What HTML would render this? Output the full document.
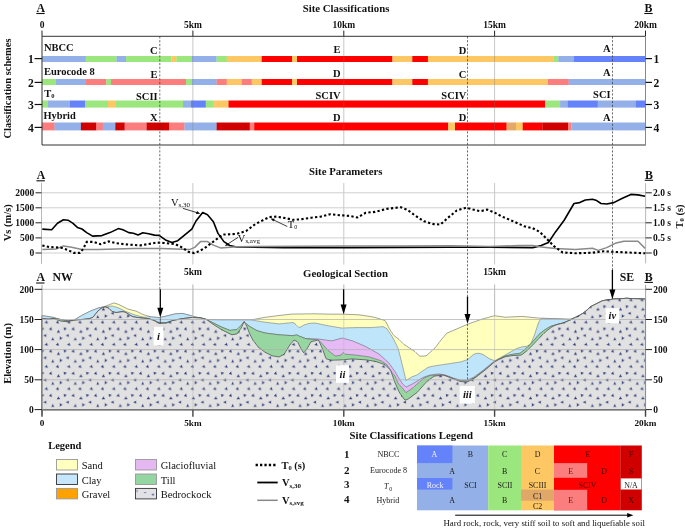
<!DOCTYPE html><html><head><meta charset="utf-8"><title>Site classification profile</title><style>
html,body{margin:0;padding:0;background:#fff;overflow:hidden;}svg{display:block;}
text{font-family:"Liberation Serif","Times New Roman",serif;fill:#111;}
.b{font-weight:bold;}.t{font-size:10.8px;font-weight:bold;}.k{font-size:9.5px;font-weight:bold;}
.lab{font-size:10.5px;font-weight:bold;}.ax{font-size:9.5px;font-weight:bold;}
</style></head><body>
<svg width="685" height="530" viewBox="0 0 685 530">
<defs><pattern id="rock" patternUnits="userSpaceOnUse" x="44.3" y="360.4" width="22.48" height="22.2"><rect width="22.48" height="22.2" fill="#e1e1e1"/><g fill="#1f2c72" stroke="#1f2c72" stroke-width="0.6" fill-opacity="0.35"><path transform="translate(8.50,1.00) rotate(180)" d="M-1.3,-1.2 L0,0.3 L1.3,-1.2 M0,0.3 L0,1.6 M-0.5,-0.3 L0.5,-0.3"/><circle cx="8.50" cy="1.00" r="0.5"/><path transform="translate(8.50,23.20) rotate(180)" d="M-1.3,-1.2 L0,0.3 L1.3,-1.2 M0,0.3 L0,1.6 M-0.5,-0.3 L0.5,-0.3"/><circle cx="8.50" cy="23.20" r="0.5"/><path transform="translate(16.30,0.20) rotate(30)" d="M-1.3,-1.2 L0,0.3 L1.3,-1.2 M0,0.3 L0,1.6 M-0.5,-0.3 L0.5,-0.3"/><circle cx="16.30" cy="0.20" r="0.5"/><path transform="translate(16.30,22.40) rotate(30)" d="M-1.3,-1.2 L0,0.3 L1.3,-1.2 M0,0.3 L0,1.6 M-0.5,-0.3 L0.5,-0.3"/><circle cx="16.30" cy="22.40" r="0.5"/><path transform="translate(2.30,6.40) rotate(-45)" d="M-1.3,-1.2 L0,0.3 L1.3,-1.2 M0,0.3 L0,1.6 M-0.5,-0.3 L0.5,-0.3"/><circle cx="2.30" cy="6.40" r="0.5"/><path transform="translate(13.40,6.40) rotate(-45)" d="M-1.3,-1.2 L0,0.3 L1.3,-1.2 M0,0.3 L0,1.6 M-0.5,-0.3 L0.5,-0.3"/><circle cx="13.40" cy="6.40" r="0.5"/><path transform="translate(6.50,12.80) rotate(200)" d="M-1.3,-1.2 L0,0.3 L1.3,-1.2 M0,0.3 L0,1.6 M-0.5,-0.3 L0.5,-0.3"/><circle cx="6.50" cy="12.80" r="0.5"/><path transform="translate(20.40,12.60) rotate(135)" d="M-1.3,-1.2 L0,0.3 L1.3,-1.2 M0,0.3 L0,1.6 M-0.5,-0.3 L0.5,-0.3"/><circle cx="20.40" cy="12.60" r="0.5"/><path transform="translate(14.00,15.80) rotate(60)" d="M-1.3,-1.2 L0,0.3 L1.3,-1.2 M0,0.3 L0,1.6 M-0.5,-0.3 L0.5,-0.3"/><circle cx="14.00" cy="15.80" r="0.5"/><path transform="translate(0.90,19.60) rotate(90)" d="M-1.3,-1.2 L0,0.3 L1.3,-1.2 M0,0.3 L0,1.6 M-0.5,-0.3 L0.5,-0.3"/><circle cx="0.90" cy="19.60" r="0.5"/><path transform="translate(23.38,19.60) rotate(90)" d="M-1.3,-1.2 L0,0.3 L1.3,-1.2 M0,0.3 L0,1.6 M-0.5,-0.3 L0.5,-0.3"/><circle cx="23.38" cy="19.60" r="0.5"/></g></pattern></defs>
<text class="t" x="346" y="11.9" text-anchor="middle">Site Classifications</text>
<text class="b" style="font-size:11.8px" x="36.6" y="11.9">A</text><line x1="36.300000000000004" y1="13.5" x2="44.7" y2="13.5" stroke="#111" stroke-width="1.1"/>
<text class="b" style="font-size:11.8px" x="644.6" y="11.9">B</text><line x1="644.3000000000001" y1="13.5" x2="652.7" y2="13.5" stroke="#111" stroke-width="1.1"/>
<text class="k" x="42.0" y="27.6" text-anchor="middle">0</text>
<line x1="42.0" y1="30.6" x2="42.0" y2="36.3" stroke="#222" stroke-width="1"/>
<text class="k" x="192.9" y="27.6" text-anchor="middle">5km</text>
<line x1="192.9" y1="30.6" x2="192.9" y2="36.3" stroke="#222" stroke-width="1"/>
<text class="k" x="343.8" y="27.6" text-anchor="middle">10km</text>
<line x1="343.8" y1="30.6" x2="343.8" y2="36.3" stroke="#222" stroke-width="1"/>
<text class="k" x="494.6" y="27.6" text-anchor="middle">15km</text>
<line x1="494.6" y1="30.6" x2="494.6" y2="36.3" stroke="#222" stroke-width="1"/>
<text class="k" x="645.5" y="27.6" text-anchor="middle">20km</text>
<line x1="645.5" y1="30.6" x2="645.5" y2="36.3" stroke="#222" stroke-width="1"/>
<line x1="192.9" y1="36.3" x2="192.9" y2="145" stroke="#c8c8c8" stroke-width="1"/>
<line x1="343.8" y1="36.3" x2="343.8" y2="145" stroke="#c8c8c8" stroke-width="1"/>
<line x1="494.6" y1="36.3" x2="494.6" y2="145" stroke="#c8c8c8" stroke-width="1"/>
<rect x="42.0" y="56" width="43.95" height="6" fill="#94b0e8"/>
<rect x="85.8" y="56" width="30.85" height="6" fill="#9be67d"/>
<rect x="116.5" y="56" width="9.75" height="6" fill="#94b0e8"/>
<rect x="126.1" y="56" width="45.45" height="6" fill="#9be67d"/>
<rect x="171.4" y="56" width="5.15" height="6" fill="#fdc764"/>
<rect x="176.4" y="56" width="15.55" height="6" fill="#9be67d"/>
<rect x="191.8" y="56" width="24.95" height="6" fill="#94b0e8"/>
<rect x="216.6" y="56" width="10.35" height="6" fill="#9be67d"/>
<rect x="226.8" y="56" width="35.05" height="6" fill="#fdc764"/>
<rect x="261.7" y="56" width="30.45" height="6" fill="#fe0000"/>
<rect x="292.0" y="56" width="5.15" height="6" fill="#fdc764"/>
<rect x="297.0" y="56" width="95.55" height="6" fill="#fe0000"/>
<rect x="392.4" y="56" width="20.05" height="6" fill="#fdc764"/>
<rect x="412.3" y="56" width="15.75" height="6" fill="#fe0000"/>
<rect x="427.9" y="56" width="125.55" height="6" fill="#fdc764"/>
<rect x="553.3" y="56" width="5.15" height="6" fill="#9be67d"/>
<rect x="558.3" y="56" width="15.45" height="6" fill="#94b0e8"/>
<rect x="573.6" y="56" width="72.05" height="6" fill="#6482fa"/>
<rect x="42.0" y="79" width="14.15" height="6" fill="#9be67d"/>
<rect x="56.0" y="79" width="29.95" height="6" fill="#94b0e8"/>
<rect x="85.8" y="79" width="20.65" height="6" fill="#fb7d7d"/>
<rect x="106.3" y="79" width="4.85" height="6" fill="#9be67d"/>
<rect x="111.0" y="79" width="75.15" height="6" fill="#fb7d7d"/>
<rect x="186.0" y="79" width="5.95" height="6" fill="#9be67d"/>
<rect x="191.8" y="79" width="24.95" height="6" fill="#94b0e8"/>
<rect x="216.6" y="79" width="10.35" height="6" fill="#fb7d7d"/>
<rect x="226.8" y="79" width="15.15" height="6" fill="#fdc764"/>
<rect x="241.8" y="79" width="10.15" height="6" fill="#fb7d7d"/>
<rect x="251.8" y="79" width="10.05" height="6" fill="#fdc764"/>
<rect x="261.7" y="79" width="30.45" height="6" fill="#fe0000"/>
<rect x="292.0" y="79" width="5.15" height="6" fill="#fdc764"/>
<rect x="297.0" y="79" width="95.55" height="6" fill="#fe0000"/>
<rect x="392.4" y="79" width="20.05" height="6" fill="#fdc764"/>
<rect x="412.3" y="79" width="15.75" height="6" fill="#fe0000"/>
<rect x="427.9" y="79" width="120.25" height="6" fill="#fdc764"/>
<rect x="548.0" y="79" width="20.85" height="6" fill="#fb7d7d"/>
<rect x="568.7" y="79" width="76.95" height="6" fill="#94b0e8"/>
<rect x="42.0" y="100.5" width="6.15" height="7.099999999999994" fill="#9be67d"/>
<rect x="48.0" y="100.5" width="22.15" height="7.099999999999994" fill="#94b0e8"/>
<rect x="70.0" y="100.5" width="15.45" height="7.099999999999994" fill="#6482fa"/>
<rect x="85.3" y="100.5" width="22.85" height="7.099999999999994" fill="#9be67d"/>
<rect x="108.0" y="100.5" width="7.45" height="7.099999999999994" fill="#fdc764"/>
<rect x="115.3" y="100.5" width="67.85" height="7.099999999999994" fill="#9be67d"/>
<rect x="183.0" y="100.5" width="8.15" height="7.099999999999994" fill="#94b0e8"/>
<rect x="191.0" y="100.5" width="14.95" height="7.099999999999994" fill="#6482fa"/>
<rect x="205.8" y="100.5" width="8.05" height="7.099999999999994" fill="#9be67d"/>
<rect x="213.7" y="100.5" width="14.95" height="7.099999999999994" fill="#fdc764"/>
<rect x="228.5" y="100.5" width="316.85" height="7.099999999999994" fill="#fe0000"/>
<rect x="545.2" y="100.5" width="15.05" height="7.099999999999994" fill="#9be67d"/>
<rect x="560.1" y="100.5" width="7.75" height="7.099999999999994" fill="#94b0e8"/>
<rect x="567.7" y="100.5" width="30.25" height="7.099999999999994" fill="#6482fa"/>
<rect x="597.8" y="100.5" width="38.25" height="7.099999999999994" fill="#94b0e8"/>
<rect x="635.9" y="100.5" width="9.75" height="7.099999999999994" fill="#6482fa"/>
<rect x="42.0" y="122.5" width="12.75" height="7.900000000000006" fill="#fb7d7d"/>
<rect x="54.6" y="122.5" width="26.45" height="7.900000000000006" fill="#94b0e8"/>
<rect x="80.9" y="122.5" width="15.65" height="7.900000000000006" fill="#d00000"/>
<rect x="96.4" y="122.5" width="6.55" height="7.900000000000006" fill="#fb7d7d"/>
<rect x="102.8" y="122.5" width="12.65" height="7.900000000000006" fill="#94b0e8"/>
<rect x="115.3" y="122.5" width="9.55" height="7.900000000000006" fill="#d00000"/>
<rect x="124.7" y="122.5" width="22.05" height="7.900000000000006" fill="#fb7d7d"/>
<rect x="146.6" y="122.5" width="22.55" height="7.900000000000006" fill="#d00000"/>
<rect x="169.0" y="122.5" width="15.65" height="7.900000000000006" fill="#fb7d7d"/>
<rect x="184.5" y="122.5" width="32.25" height="7.900000000000006" fill="#94b0e8"/>
<rect x="216.6" y="122.5" width="33.35" height="7.900000000000006" fill="#d00000"/>
<rect x="249.8" y="122.5" width="4.55" height="7.900000000000006" fill="#fb7d7d"/>
<rect x="254.2" y="122.5" width="194.15" height="7.900000000000006" fill="#fe0000"/>
<rect x="448.2" y="122.5" width="6.95" height="7.900000000000006" fill="#fdc764"/>
<rect x="455.0" y="122.5" width="51.75" height="7.900000000000006" fill="#fe0000"/>
<rect x="506.6" y="122.5" width="9.55" height="7.900000000000006" fill="#e2a967"/>
<rect x="516.0" y="122.5" width="6.85" height="7.900000000000006" fill="#fdc764"/>
<rect x="522.7" y="122.5" width="19.75" height="7.900000000000006" fill="#fe0000"/>
<rect x="542.3" y="122.5" width="25.85" height="7.900000000000006" fill="#d00000"/>
<rect x="568.0" y="122.5" width="3.45" height="7.900000000000006" fill="#fb7d7d"/>
<rect x="571.3" y="122.5" width="74.35" height="7.900000000000006" fill="#94b0e8"/>
<line x1="192.9" y1="56" x2="192.9" y2="62" stroke="#777" stroke-width="1" opacity="0.35"/>
<line x1="192.9" y1="79" x2="192.9" y2="85" stroke="#777" stroke-width="1" opacity="0.35"/>
<line x1="192.9" y1="100.5" x2="192.9" y2="107.6" stroke="#777" stroke-width="1" opacity="0.35"/>
<line x1="192.9" y1="122.5" x2="192.9" y2="130.4" stroke="#777" stroke-width="1" opacity="0.35"/>
<line x1="343.8" y1="56" x2="343.8" y2="62" stroke="#777" stroke-width="1" opacity="0.35"/>
<line x1="343.8" y1="79" x2="343.8" y2="85" stroke="#777" stroke-width="1" opacity="0.35"/>
<line x1="343.8" y1="100.5" x2="343.8" y2="107.6" stroke="#777" stroke-width="1" opacity="0.35"/>
<line x1="343.8" y1="122.5" x2="343.8" y2="130.4" stroke="#777" stroke-width="1" opacity="0.35"/>
<line x1="494.6" y1="56" x2="494.6" y2="62" stroke="#777" stroke-width="1" opacity="0.35"/>
<line x1="494.6" y1="79" x2="494.6" y2="85" stroke="#777" stroke-width="1" opacity="0.35"/>
<line x1="494.6" y1="100.5" x2="494.6" y2="107.6" stroke="#777" stroke-width="1" opacity="0.35"/>
<line x1="494.6" y1="122.5" x2="494.6" y2="130.4" stroke="#777" stroke-width="1" opacity="0.35"/>
<path d="M645.5,36.3 H42 V145 H645.5" fill="none" stroke="#333" stroke-width="1"/>
<line x1="645.5" y1="36.3" x2="645.5" y2="145.5" stroke="#888" stroke-width="1"/>
<line x1="34.6" y1="58.6" x2="42" y2="58.6" stroke="#111" stroke-width="1.2"/>
<line x1="645.5" y1="58.6" x2="652" y2="58.6" stroke="#111" stroke-width="1.2"/>
<text class="lab" x="33.8" y="62.8" text-anchor="end" style="font-size:11.6px">1</text>
<text class="lab" x="653.4" y="62.8" style="font-size:11.6px">1</text>
<line x1="34.6" y1="82.4" x2="42" y2="82.4" stroke="#111" stroke-width="1.2"/>
<line x1="645.5" y1="82.4" x2="652" y2="82.4" stroke="#111" stroke-width="1.2"/>
<text class="lab" x="33.8" y="86.6" text-anchor="end" style="font-size:11.6px">2</text>
<text class="lab" x="653.4" y="86.6" style="font-size:11.6px">2</text>
<line x1="34.6" y1="104.5" x2="42" y2="104.5" stroke="#111" stroke-width="1.2"/>
<line x1="645.5" y1="104.5" x2="652" y2="104.5" stroke="#111" stroke-width="1.2"/>
<text class="lab" x="33.8" y="108.7" text-anchor="end" style="font-size:11.6px">3</text>
<text class="lab" x="653.4" y="108.7" style="font-size:11.6px">3</text>
<line x1="34.6" y1="127.4" x2="42" y2="127.4" stroke="#111" stroke-width="1.2"/>
<line x1="645.5" y1="127.4" x2="652" y2="127.4" stroke="#111" stroke-width="1.2"/>
<text class="lab" x="33.8" y="131.6" text-anchor="end" style="font-size:11.6px">4</text>
<text class="lab" x="653.4" y="131.6" style="font-size:11.6px">4</text>
<text class="lab" transform="translate(11,88.5) rotate(-90)" text-anchor="middle">Classification schemes</text>
<text class="lab" x="43.9" y="51.2" style="font-size:10.5px">NBCC</text>
<text class="lab" x="43.9" y="75" style="font-size:10.5px">Eurocode 8</text>
<text class="lab" x="44.2" y="97">T<tspan style="font-size:6.5px" dy="0.9">0</tspan></text>
<text class="lab" x="43.4" y="118.9" style="font-size:10.4px">Hybrid</text>
<text class="lab" x="157.6" y="54.2" text-anchor="end">C</text>
<text class="lab" x="157.6" y="77.7" text-anchor="end">E</text>
<text class="lab" x="157.6" y="99.7" text-anchor="end">SCII</text>
<text class="lab" x="157.6" y="120.6" text-anchor="end">X</text>
<text class="lab" x="340.6" y="53.4" text-anchor="end">E</text>
<text class="lab" x="340.6" y="76.9" text-anchor="end">D</text>
<text class="lab" x="340.6" y="98.8" text-anchor="end">SCIV</text>
<text class="lab" x="340.6" y="121.2" text-anchor="end">D</text>
<text class="lab" x="466.4" y="53.8" text-anchor="end">D</text>
<text class="lab" x="466.4" y="77.6" text-anchor="end">C</text>
<text class="lab" x="466.4" y="99.2" text-anchor="end">SCIV</text>
<text class="lab" x="466.4" y="121.2" text-anchor="end">D</text>
<text class="lab" x="610.6" y="51.8" text-anchor="end">A</text>
<text class="lab" x="610.6" y="75.7" text-anchor="end">A</text>
<text class="lab" x="610.6" y="97.8" text-anchor="end">SCI</text>
<text class="lab" x="610.6" y="121.2" text-anchor="end">A</text>
<text class="t" x="345.8" y="175.2" text-anchor="middle">Site Parameters</text>
<text class="b" style="font-size:11.8px" x="36.7" y="179.2">A</text><line x1="36.400000000000006" y1="180.8" x2="44.8" y2="180.8" stroke="#111" stroke-width="1.1"/>
<text class="b" style="font-size:11.8px" x="645.0" y="178.7">B</text><line x1="644.7" y1="180.3" x2="653.1" y2="180.3" stroke="#111" stroke-width="1.1"/>
<line x1="42" y1="192.8" x2="645.5" y2="192.8" stroke="#cfcfcf" stroke-width="1"/>
<line x1="42" y1="207.8" x2="645.5" y2="207.8" stroke="#cfcfcf" stroke-width="1"/>
<line x1="42" y1="222.8" x2="645.5" y2="222.8" stroke="#cfcfcf" stroke-width="1"/>
<line x1="42" y1="237.9" x2="645.5" y2="237.9" stroke="#cfcfcf" stroke-width="1"/>
<line x1="42" y1="253" x2="645.5" y2="253" stroke="#cfcfcf" stroke-width="1"/>
<line x1="192.9" y1="183" x2="192.9" y2="264.5" stroke="#c8c8c8" stroke-width="1"/>
<line x1="343.8" y1="183" x2="343.8" y2="264.5" stroke="#c8c8c8" stroke-width="1"/>
<line x1="494.6" y1="183" x2="494.6" y2="264.5" stroke="#c8c8c8" stroke-width="1"/>
<line x1="41.5" y1="182.8" x2="41.5" y2="263.8" stroke="#b8b8b8" stroke-width="1"/>
<line x1="645.6" y1="183.2" x2="645.6" y2="263.4" stroke="#b8b8b8" stroke-width="1"/>
<line x1="35.5" y1="192.8" x2="41.5" y2="192.8" stroke="#222" stroke-width="1"/>
<line x1="645.6" y1="192.8" x2="651.8" y2="192.8" stroke="#222" stroke-width="1"/>
<text class="ax" x="34.2" y="196.1" text-anchor="end">2000</text>
<text class="ax" x="653" y="196.1">2.0 s</text>
<line x1="35.5" y1="207.8" x2="41.5" y2="207.8" stroke="#222" stroke-width="1"/>
<line x1="645.6" y1="207.8" x2="651.8" y2="207.8" stroke="#222" stroke-width="1"/>
<text class="ax" x="34.2" y="211.1" text-anchor="end">1500</text>
<text class="ax" x="653" y="211.1">1.5 s</text>
<line x1="35.5" y1="222.8" x2="41.5" y2="222.8" stroke="#222" stroke-width="1"/>
<line x1="645.6" y1="222.8" x2="651.8" y2="222.8" stroke="#222" stroke-width="1"/>
<text class="ax" x="34.2" y="226.1" text-anchor="end">1000</text>
<text class="ax" x="653" y="226.1">1.0 s</text>
<line x1="35.5" y1="237.9" x2="41.5" y2="237.9" stroke="#222" stroke-width="1"/>
<line x1="645.6" y1="237.9" x2="651.8" y2="237.9" stroke="#222" stroke-width="1"/>
<text class="ax" x="34.2" y="241.2" text-anchor="end">500</text>
<text class="ax" x="653" y="241.2">0.5 s</text>
<line x1="35.5" y1="253" x2="41.5" y2="253" stroke="#222" stroke-width="1"/>
<line x1="645.6" y1="253" x2="651.8" y2="253" stroke="#222" stroke-width="1"/>
<text class="ax" x="34.2" y="256.3" text-anchor="end">0</text>
<text class="ax" x="653" y="256.3">0</text>
<text class="lab" transform="translate(10.5,222.8) rotate(-90)" text-anchor="middle">Vs (m/s)</text>
<text class="lab" transform="translate(683,216.5) rotate(-90)" text-anchor="middle">T<tspan style="font-size:6.5px" dy="0.8">0</tspan><tspan dy="-0.8"> (s)</tspan></text>
<polyline points="42.3,229.1 51.7,229.8 57.5,223.2 63.4,219.7 68.0,220.2 72.7,223.2 77.4,227.4 82.0,229.0 86.7,232.6 92.6,236.1 101.9,235.6 110.0,232.6 118.3,228.6 122.9,229.8 128.8,232.6 133.4,233.3 138.1,234.9 142.8,232.8 148.6,233.7 154.5,235.1 159.1,235.4 166.1,240.3 172.0,242.6 177.8,240.7 184.8,234.9 191.8,229.1 196.0,221.0 202.7,212.6 207.5,214.7 213.4,221.7 218.0,233.4 223.9,241.6 229.7,245.5 236.7,247.0 283.4,247.6 350.0,247.6 400.0,247.4 450.0,247.2 490.0,247.2 532.7,247.6 541.2,245.6 548.4,242.5 555.5,231.9 564.0,220.5 574.0,203.5 579.7,202.6 585.4,200.0 592.5,199.2 596.7,200.6 601.0,203.5 606.7,204.0 613.8,202.6 622.4,198.3 630.9,194.4 638.0,194.9 645.1,196.3" fill="none" stroke="#000" stroke-width="1.6" stroke-linejoin="round"/>
<polyline points="42.3,249.4 56.4,248.9 63.4,245.9 70.4,247.0 82.0,249.6 98.4,249.6 133.4,248.4 161.5,248.4 189.5,249.6 194.7,247.4 200.5,241.6 207.5,241.6 213.4,245.1 220.4,247.9 236.7,246.7 300.0,246.2 350.0,246.0 400.0,246.0 450.0,245.8 490.0,246.5 518.5,245.6 532.7,245.6 541.2,247.0 555.5,248.4 575.4,249.6 592.5,248.2 598.2,250.4 606.7,247.6 615.2,243.3 623.8,241.3 638.0,241.3 645.1,248.4" fill="none" stroke="#8a8a8a" stroke-width="1.5" stroke-linejoin="round"/>
<polyline points="42.3,245.4 49.3,247.0 61.0,247.7 68.0,250.0 73.9,252.9 79.7,252.9 83.2,248.9 86.7,241.9 93.7,241.9 100.7,244.2 108.9,241.4 115.9,243.1 124.1,244.2 133.4,244.9 140.4,245.4 147.5,244.2 156.8,242.6 166.1,243.1 175.5,244.2 182.5,247.7 188.3,251.7 194.2,253.1 197.0,252.1 204.0,248.6 213.4,241.6 222.7,234.6 236.7,233.9 246.0,231.1 255.4,224.0 269.4,217.0 276.4,216.6 285.8,218.2 292.8,219.8 299.8,219.4 311.5,217.7 320.8,216.6 330.2,214.2 339.5,215.2 349.3,215.9 357.5,217.5 365.7,212.8 375.0,211.9 386.7,208.9 400.7,207.2 407.7,210.0 414.7,215.2 424.1,221.3 433.4,224.1 440.4,224.5 447.5,218.2 456.8,210.5 466.1,207.7 473.1,209.6 480.2,211.2 487.2,209.6 494.2,212.4 501.4,216.3 512.8,221.1 524.2,226.2 532.7,228.2 539.8,231.9 546.9,239.0 554.0,246.2 562.6,252.4 575.4,253.3 592.5,252.7 603.9,251.3 615.2,251.9 632.3,252.7 645.1,253.3" fill="none" stroke="#000" stroke-width="2.1" stroke-dasharray="2.3 2.3"/>
<text x="171" y="206" font-size="10.5">V<tspan font-size="7" dy="1.3">s,30</tspan></text>
<line x1="183" y1="208.4" x2="197.5" y2="212.8" stroke="#000" stroke-width="0.75"/><path d="M200.3,213.7 L196.0,214.0 L197.0,211.0 z" fill="#000"/>
<text x="237.8" y="241.8" font-size="10.5">V<tspan font-size="7" dy="1.3">s,avg</tspan></text>
<line x1="238" y1="237.4" x2="227.5" y2="244.2" stroke="#000" stroke-width="0.75"/><path d="M224.9,246 L227.1,243.0 L228.5,245.2 z" fill="#000"/>
<text x="287.8" y="227.6" font-size="10.5">T<tspan font-size="6" dy="1">0</tspan></text>
<line x1="287.3" y1="226.5" x2="273.5" y2="219.9" stroke="#000" stroke-width="0.75"/><path d="M270.5,218.4 L274.8,218.7 L273.4,221.6 z" fill="#000"/>
<text class="t" x="345.5" y="277.4" text-anchor="middle">Geological Section</text>
<text class="b" style="font-size:11.8px" x="36.4" y="281.4">A</text><line x1="36.1" y1="283.0" x2="44.5" y2="283.0" stroke="#111" stroke-width="1.1"/>
<text class="b" style="font-size:11.8px" x="52.6" y="281.4">NW</text>
<text class="b" style="font-size:11.8px" x="619.8" y="280.6">SE</text>
<text class="b" style="font-size:11.8px" x="644.8" y="280.8">B</text><line x1="644.5" y1="282.4" x2="652.9" y2="282.4" stroke="#111" stroke-width="1.1"/>
<text class="k" x="192.9" y="274.6" text-anchor="middle">5km</text>
<text class="k" x="494.6" y="274.6" text-anchor="middle">15km</text>
<line x1="192.9" y1="284.5" x2="192.9" y2="409.6" stroke="#c8c8c8" stroke-width="1"/>
<line x1="343.8" y1="284.5" x2="343.8" y2="409.6" stroke="#c8c8c8" stroke-width="1"/>
<line x1="494.6" y1="284.5" x2="494.6" y2="409.6" stroke="#c8c8c8" stroke-width="1"/>
<polygon points="42.0,409.6 42.0,315.6 43.0,315.8 44.0,315.9 45.0,316.1 46.0,316.2 47.0,316.4 48.0,316.5 49.0,316.7 50.0,316.8 51.0,317.0 52.0,317.2 53.0,317.3 54.0,317.6 55.0,317.9 56.0,318.2 57.0,318.5 58.0,318.8 59.0,319.1 60.0,319.4 61.0,319.6 62.0,319.7 63.0,319.9 64.0,320.1 65.0,320.2 66.0,320.4 67.0,320.6 68.0,320.7 69.0,320.7 70.0,320.7 71.0,320.6 72.0,320.5 73.0,320.4 74.0,320.1 75.0,319.5 76.0,318.9 77.0,318.3 78.0,317.7 79.0,317.1 80.0,316.5 81.0,315.9 82.0,315.3 83.0,314.8 84.0,314.3 85.0,313.8 86.0,313.3 87.0,312.8 88.0,312.3 89.0,311.8 90.0,311.3 91.0,310.8 92.0,310.5 93.0,310.1 94.0,309.7 95.0,309.3 96.0,308.9 97.0,308.5 98.0,308.1 99.0,307.9 100.0,307.6 101.0,307.4 102.0,307.2 103.0,306.9 104.0,306.7 105.0,306.4 106.0,306.0 107.0,305.6 108.0,305.2 109.0,304.8 110.0,304.4 111.0,304.0 112.0,303.6 113.0,303.2 114.0,303.0 115.0,303.3 116.0,303.6 117.0,303.9 118.0,304.2 119.0,304.6 120.0,305.1 121.0,305.6 122.0,306.1 123.0,306.6 124.0,307.1 125.0,307.6 126.0,308.1 127.0,308.6 128.0,309.1 129.0,309.3 130.0,309.6 131.0,309.8 132.0,310.1 133.0,310.4 134.0,310.6 135.0,310.9 136.0,311.1 137.0,311.5 138.0,312.0 139.0,312.5 140.0,313.0 141.0,313.5 142.0,314.0 143.0,314.5 144.0,314.9 145.0,315.2 146.0,315.5 147.0,315.8 148.0,316.1 149.0,316.4 150.0,316.7 151.0,316.9 152.0,317.0 153.0,317.1 154.0,317.2 155.0,317.2 156.0,317.3 157.0,317.4 158.0,317.5 159.0,317.6 160.0,317.5 161.0,317.2 162.0,317.0 163.0,316.8 164.0,316.6 165.0,316.4 166.0,316.1 167.0,315.9 168.0,315.7 169.0,315.4 170.0,315.2 171.0,314.9 172.0,314.7 173.0,314.4 174.0,314.2 175.0,313.9 176.0,313.8 177.0,313.8 178.0,313.7 179.0,313.6 180.0,313.5 181.0,313.5 182.0,313.4 183.0,313.6 184.0,313.9 185.0,314.1 186.0,314.4 187.0,314.6 188.0,314.8 189.0,315.1 190.0,315.4 191.0,315.7 192.0,316.0 193.0,316.3 194.0,316.6 195.0,316.9 196.0,317.1 197.0,317.2 198.0,317.4 199.0,317.6 200.0,317.8 201.0,317.9 202.0,318.1 203.0,318.4 204.0,318.7 205.0,319.1 206.0,319.4 207.0,319.5 208.0,319.5 209.0,319.6 210.0,319.6 211.0,319.6 212.0,319.7 213.0,319.7 214.0,319.7 215.0,319.7 216.0,319.8 217.0,319.8 218.0,319.8 219.0,319.8 220.0,319.9 221.0,319.9 222.0,319.9 223.0,319.9 224.0,319.9 225.0,319.9 226.0,319.9 227.0,319.9 228.0,319.9 229.0,319.9 230.0,319.9 231.0,319.9 232.0,319.9 233.0,319.9 234.0,319.9 235.0,319.9 236.0,319.9 237.0,319.9 238.0,319.9 239.0,319.9 240.0,319.9 241.0,319.9 242.0,319.9 243.0,319.9 244.0,319.9 245.0,319.9 246.0,319.9 247.0,319.9 248.0,319.9 249.0,319.9 250.0,319.9 251.0,319.9 252.0,319.7 253.0,319.5 254.0,319.4 255.0,319.2 256.0,319.0 257.0,318.8 258.0,318.6 259.0,318.4 260.0,318.2 261.0,318.1 262.0,317.9 263.0,317.7 264.0,317.5 265.0,317.3 266.0,317.2 267.0,317.1 268.0,316.9 269.0,316.8 270.0,316.7 271.0,316.5 272.0,316.4 273.0,316.3 274.0,316.2 275.0,316.0 276.0,315.9 277.0,315.8 278.0,315.6 279.0,315.5 280.0,315.4 281.0,315.3 282.0,315.2 283.0,315.1 284.0,314.9 285.0,314.8 286.0,314.7 287.0,314.6 288.0,314.5 289.0,314.4 290.0,314.3 291.0,314.1 292.0,314.1 293.0,314.1 294.0,314.1 295.0,314.1 296.0,314.0 297.0,314.0 298.0,314.0 299.0,314.0 300.0,314.0 301.0,314.0 302.0,314.0 303.0,314.0 304.0,313.9 305.0,313.9 306.0,313.9 307.0,313.9 308.0,313.9 309.0,313.9 310.0,313.9 311.0,313.9 312.0,313.8 313.0,313.8 314.0,313.8 315.0,313.8 316.0,313.8 317.0,313.9 318.0,313.9 319.0,313.9 320.0,313.9 321.0,313.9 322.0,314.0 323.0,314.0 324.0,314.0 325.0,314.1 326.0,314.1 327.0,314.1 328.0,314.1 329.0,314.1 330.0,314.2 331.0,314.2 332.0,314.2 333.0,314.2 334.0,314.2 335.0,314.2 336.0,314.2 337.0,314.2 338.0,314.2 339.0,314.2 340.0,314.2 341.0,314.2 342.0,314.2 343.0,314.2 344.0,314.2 345.0,314.3 346.0,314.3 347.0,314.3 348.0,314.4 349.0,314.4 350.0,314.5 351.0,314.5 352.0,314.5 353.0,314.6 354.0,314.6 355.0,314.6 356.0,314.7 357.0,314.7 358.0,314.8 359.0,314.8 360.0,314.9 361.0,315.1 362.0,315.2 363.0,315.4 364.0,315.6 365.0,315.7 366.0,315.9 367.0,316.0 368.0,316.2 369.0,316.3 370.0,316.5 371.0,316.7 372.0,316.8 373.0,317.0 374.0,317.2 375.0,317.5 376.0,317.8 377.0,318.1 378.0,318.4 379.0,318.7 380.0,319.0 381.0,319.3 382.0,319.6 383.0,319.9 384.0,320.2 385.0,320.5 386.0,322.0 387.0,324.0 388.0,326.1 389.0,328.1 390.0,329.8 391.0,331.3 392.0,332.8 393.0,334.3 394.0,335.5 395.0,336.3 396.0,337.1 397.0,337.9 398.0,338.6 399.0,339.5 400.0,340.5 401.0,341.5 402.0,342.5 403.0,343.5 404.0,344.5 405.0,345.1 406.0,345.7 407.0,346.4 408.0,347.0 409.0,347.7 410.0,348.3 411.0,349.0 412.0,349.6 413.0,350.3 414.0,350.9 415.0,351.7 416.0,352.7 417.0,353.6 418.0,354.5 419.0,355.4 420.0,356.3 421.0,356.2 422.0,356.1 423.0,356.1 424.0,356.0 425.0,355.9 426.0,355.8 427.0,355.2 428.0,354.3 429.0,353.4 430.0,352.5 431.0,351.6 432.0,350.7 433.0,349.7 434.0,348.8 435.0,347.9 436.0,346.6 437.0,345.3 438.0,344.0 439.0,342.6 440.0,341.3 441.0,340.0 442.0,338.8 443.0,337.7 444.0,336.5 445.0,335.3 446.0,334.1 447.0,333.1 448.0,332.7 449.0,332.3 450.0,331.8 451.0,331.4 452.0,331.0 453.0,330.6 454.0,330.1 455.0,329.7 456.0,329.3 457.0,328.8 458.0,328.4 459.0,328.0 460.0,327.5 461.0,327.1 462.0,326.7 463.0,326.2 464.0,325.8 465.0,325.4 466.0,324.9 467.0,324.5 468.0,324.1 469.0,323.8 470.0,323.4 471.0,323.0 472.0,322.7 473.0,322.3 474.0,322.0 475.0,321.6 476.0,321.3 477.0,320.9 478.0,320.6 479.0,320.2 480.0,319.8 481.0,319.5 482.0,319.1 483.0,318.9 484.0,318.6 485.0,318.3 486.0,318.0 487.0,317.8 488.0,317.5 489.0,317.2 490.0,316.9 491.0,316.6 492.0,316.4 493.0,316.1 494.0,315.8 495.0,315.8 496.0,315.9 497.0,316.1 498.0,316.2 499.0,316.4 500.0,316.5 501.0,316.6 502.0,316.8 503.0,316.9 504.0,317.1 505.0,317.2 506.0,317.2 507.0,317.1 508.0,317.1 509.0,317.0 510.0,317.0 511.0,316.9 512.0,316.9 513.0,316.8 514.0,316.8 515.0,316.7 516.0,316.7 517.0,316.7 518.0,316.6 519.0,316.6 520.0,316.5 521.0,316.5 522.0,316.4 523.0,316.5 524.0,316.6 525.0,316.7 526.0,316.8 527.0,316.9 528.0,317.0 529.0,317.1 530.0,317.2 531.0,317.3 532.0,317.4 533.0,317.5 534.0,317.6 535.0,317.7 536.0,317.8 537.0,317.9 538.0,318.0 539.0,318.1 540.0,318.2 541.0,318.2 542.0,318.3 543.0,318.3 544.0,318.3 545.0,318.4 546.0,318.4 547.0,318.4 548.0,318.5 549.0,318.5 550.0,318.5 551.0,318.6 552.0,318.6 553.0,318.6 554.0,318.7 555.0,318.7 556.0,318.7 557.0,318.8 558.0,318.8 559.0,318.9 560.0,318.9 561.0,318.9 562.0,319.0 563.0,319.0 564.0,319.1 565.0,319.1 566.0,319.1 567.0,319.2 568.0,319.2 569.0,319.2 570.0,319.3 571.0,319.1 572.0,318.7 573.0,318.3 574.0,318.0 575.0,317.6 576.0,317.1 577.0,316.6 578.0,316.1 579.0,315.6 580.0,315.1 581.0,314.6 582.0,313.9 583.0,313.2 584.0,312.5 585.0,311.8 586.0,310.9 587.0,310.0 588.0,309.1 589.0,308.2 590.0,307.3 591.0,306.5 592.0,306.0 593.0,305.5 594.0,305.0 595.0,304.5 596.0,304.0 597.0,303.5 598.0,303.0 599.0,302.5 600.0,302.0 601.0,301.5 602.0,301.0 603.0,300.6 604.0,300.5 605.0,300.3 606.0,300.2 607.0,300.0 608.0,299.9 609.0,299.7 610.0,299.6 611.0,299.4 612.0,299.2 613.0,299.2 614.0,299.1 615.0,299.0 616.0,299.0 617.0,298.9 618.0,298.8 619.0,298.8 620.0,298.7 621.0,298.7 622.0,298.6 623.0,298.5 624.0,298.5 625.0,298.4 626.0,298.3 627.0,298.3 628.0,298.4 629.0,298.4 630.0,298.5 631.0,298.5 632.0,298.6 633.0,298.6 634.0,298.6 635.0,298.7 636.0,298.7 637.0,298.8 638.0,298.8 639.0,298.9 640.0,298.9 641.0,299.0 642.0,299.0 643.0,299.1 644.0,299.1 645.0,299.2 645.5,299.2 645.5,409.6" fill="#ffffbe" stroke="#666" stroke-width="0.6"/>
<polygon points="42.0,409.6 42.0,315.6 43.0,315.8 44.0,315.9 45.0,316.1 46.0,316.2 47.0,316.4 48.0,316.5 49.0,316.7 50.0,316.8 51.0,317.0 52.0,317.2 53.0,317.3 54.0,317.6 55.0,317.9 56.0,318.2 57.0,318.5 58.0,318.8 59.0,319.1 60.0,319.4 61.0,319.6 62.0,319.7 63.0,319.9 64.0,320.1 65.0,320.2 66.0,320.4 67.0,320.6 68.0,320.7 69.0,320.7 70.0,320.7 71.0,320.6 72.0,320.5 73.0,320.4 74.0,320.1 75.0,319.5 76.0,318.9 77.0,318.3 78.0,317.7 79.0,317.1 80.0,316.5 81.0,315.9 82.0,315.3 83.0,314.8 84.0,314.3 85.0,313.8 86.0,313.3 87.0,312.8 88.0,312.3 89.0,311.8 90.0,311.3 91.0,310.8 92.0,310.5 93.0,310.1 94.0,309.7 95.0,309.3 96.0,308.9 97.0,308.5 98.0,308.1 99.0,307.9 100.0,307.6 101.0,307.4 102.0,307.2 103.0,306.9 104.0,306.7 105.0,306.4 106.0,306.8 107.0,306.6 108.0,306.5 109.0,306.3 110.0,306.2 111.0,306.1 112.0,305.9 113.0,306.2 114.0,306.5 115.0,306.8 116.0,307.1 117.0,307.4 118.0,307.8 119.0,308.1 120.0,308.6 121.0,309.1 122.0,309.6 123.0,310.1 124.0,310.6 125.0,311.1 126.0,311.6 127.0,311.9 128.0,312.3 129.0,312.7 130.0,313.1 131.0,313.5 132.0,313.9 133.0,314.3 134.0,314.6 135.0,314.9 136.0,315.2 137.0,315.5 138.0,315.7 139.0,316.0 140.0,316.3 141.0,316.6 142.0,316.9 143.0,317.0 144.0,317.1 145.0,317.2 146.0,317.3 147.0,317.4 148.0,316.1 149.0,316.4 150.0,316.7 151.0,316.9 152.0,317.0 153.0,317.1 154.0,317.2 155.0,317.2 156.0,317.3 157.0,317.4 158.0,317.5 159.0,317.6 160.0,317.5 161.0,317.2 162.0,317.0 163.0,316.8 164.0,316.6 165.0,316.4 166.0,316.1 167.0,315.9 168.0,315.7 169.0,315.4 170.0,315.2 171.0,314.9 172.0,314.7 173.0,314.4 174.0,314.2 175.0,313.9 176.0,313.8 177.0,313.8 178.0,313.7 179.0,313.6 180.0,313.5 181.0,313.5 182.0,313.4 183.0,313.6 184.0,313.9 185.0,314.1 186.0,314.4 187.0,314.6 188.0,314.8 189.0,315.1 190.0,315.4 191.0,315.7 192.0,316.0 193.0,316.3 194.0,316.6 195.0,316.9 196.0,317.1 197.0,317.2 198.0,317.4 199.0,317.6 200.0,317.8 201.0,317.9 202.0,318.1 203.0,318.4 204.0,318.7 205.0,319.1 206.0,319.4 207.0,319.5 208.0,319.5 209.0,319.6 210.0,319.6 211.0,319.6 212.0,319.7 213.0,319.7 214.0,319.7 215.0,319.7 216.0,319.8 217.0,319.8 218.0,319.8 219.0,319.8 220.0,319.9 221.0,319.9 222.0,319.9 223.0,319.9 224.0,319.9 225.0,319.9 226.0,319.9 227.0,319.9 228.0,319.9 229.0,319.9 230.0,319.9 231.0,319.9 232.0,319.9 233.0,319.9 234.0,319.9 235.0,319.9 236.0,319.9 237.0,319.9 238.0,319.9 239.0,319.9 240.0,319.9 241.0,319.9 242.0,319.9 243.0,319.9 244.0,319.9 245.0,319.9 246.0,319.9 247.0,319.9 248.0,319.9 249.0,319.9 250.0,319.9 251.0,319.9 252.0,320.0 253.0,320.2 254.0,320.4 255.0,320.5 256.0,320.7 257.0,320.9 258.0,321.0 259.0,321.2 260.0,321.4 261.0,321.5 262.0,321.7 263.0,321.9 264.0,322.0 265.0,322.2 266.0,322.3 267.0,322.4 268.0,322.6 269.0,322.7 270.0,322.8 271.0,322.9 272.0,323.0 273.0,323.2 274.0,323.3 275.0,323.4 276.0,323.5 277.0,323.6 278.0,323.8 279.0,323.9 280.0,323.8 281.0,323.7 282.0,323.6 283.0,323.5 284.0,323.4 285.0,323.3 286.0,323.2 287.0,323.1 288.0,323.0 289.0,322.9 290.0,322.8 291.0,322.7 292.0,322.6 293.0,322.5 294.0,323.1 295.0,323.8 296.0,324.6 297.0,325.6 298.0,326.6 299.0,327.6 300.0,327.3 301.0,326.7 302.0,326.1 303.0,325.5 304.0,325.0 305.0,324.7 306.0,324.3 307.0,324.0 308.0,323.7 309.0,323.4 310.0,323.3 311.0,323.3 312.0,323.2 313.0,323.1 314.0,323.1 315.0,323.0 316.0,323.2 317.0,323.4 318.0,323.6 319.0,323.8 320.0,324.0 321.0,324.2 322.0,324.5 323.0,324.7 324.0,324.9 325.0,325.1 326.0,325.3 327.0,325.5 328.0,325.7 329.0,325.9 330.0,326.0 331.0,326.2 332.0,326.4 333.0,326.6 334.0,326.7 335.0,326.9 336.0,327.1 337.0,327.3 338.0,327.4 339.0,327.6 340.0,327.8 341.0,328.0 342.0,328.0 343.0,328.0 344.0,327.9 345.0,327.9 346.0,327.9 347.0,327.8 348.0,327.8 349.0,327.8 350.0,327.8 351.0,327.7 352.0,327.7 353.0,327.7 354.0,327.7 355.0,327.6 356.0,327.6 357.0,327.6 358.0,327.6 359.0,327.6 360.0,327.6 361.0,327.6 362.0,327.6 363.0,327.6 364.0,327.6 365.0,327.6 366.0,327.6 367.0,327.6 368.0,327.6 369.0,327.6 370.0,327.6 371.0,327.5 372.0,327.4 373.0,327.4 374.0,327.3 375.0,327.2 376.0,327.1 377.0,327.1 378.0,327.0 379.0,326.9 380.0,326.8 381.0,326.8 382.0,326.7 383.0,326.6 384.0,327.1 385.0,327.6 386.0,328.1 387.0,328.8 388.0,330.3 389.0,331.8 390.0,333.3 391.0,334.8 392.0,336.3 393.0,338.1 394.0,340.1 395.0,342.1 396.0,344.1 397.0,346.1 398.0,348.1 399.0,351.7 400.0,355.7 401.0,359.7 402.0,363.7 403.0,367.9 404.0,372.0 405.0,376.2 406.0,380.5 407.0,379.9 408.0,379.2 409.0,378.6 410.0,378.0 411.0,377.3 412.0,376.8 413.0,376.4 414.0,376.1 415.0,375.7 416.0,375.3 417.0,374.9 418.0,374.2 419.0,373.5 420.0,372.8 421.0,372.1 422.0,371.4 423.0,370.7 424.0,370.0 425.0,369.4 426.0,368.7 427.0,368.0 428.0,367.3 429.0,367.1 430.0,366.9 431.0,366.6 432.0,366.4 433.0,366.2 434.0,366.0 435.0,365.8 436.0,365.7 437.0,365.5 438.0,365.3 439.0,365.2 440.0,365.0 441.0,364.9 442.0,364.7 443.0,364.6 444.0,364.4 445.0,364.3 446.0,364.1 447.0,364.0 448.0,363.8 449.0,363.7 450.0,363.6 451.0,363.4 452.0,363.2 453.0,363.1 454.0,362.9 455.0,362.8 456.0,362.6 457.0,362.5 458.0,362.3 459.0,362.2 460.0,362.0 461.0,361.8 462.0,361.5 463.0,361.1 464.0,360.8 465.0,360.5 466.0,360.1 467.0,359.8 468.0,359.1 469.0,358.3 470.0,357.4 471.0,356.6 472.0,355.7 473.0,354.9 474.0,354.1 475.0,353.9 476.0,353.6 477.0,353.4 478.0,353.2 479.0,353.3 480.0,353.6 481.0,353.8 482.0,354.1 483.0,354.5 484.0,355.1 485.0,355.8 486.0,356.5 487.0,357.1 488.0,357.8 489.0,358.5 490.0,358.9 491.0,359.3 492.0,359.7 493.0,360.1 494.0,360.6 495.0,360.6 496.0,360.0 497.0,359.5 498.0,358.9 499.0,358.3 500.0,357.8 501.0,357.2 502.0,356.7 503.0,356.1 504.0,355.6 505.0,355.0 506.0,354.4 507.0,353.9 508.0,353.3 509.0,352.8 510.0,352.2 511.0,351.7 512.0,351.1 513.0,350.6 514.0,350.0 515.0,349.4 516.0,348.9 517.0,348.4 518.0,348.1 519.0,347.8 520.0,347.5 521.0,347.2 522.0,346.9 523.0,346.7 524.0,346.6 525.0,346.5 526.0,346.4 527.0,346.2 528.0,345.7 529.0,345.0 530.0,344.4 531.0,343.2 532.0,340.9 533.0,338.5 534.0,336.2 535.0,333.3 536.0,330.2 537.0,327.2 538.0,324.3 539.0,321.6 540.0,320.1 541.0,318.7 542.0,318.3 543.0,318.3 544.0,318.3 545.0,318.4 546.0,318.4 547.0,318.4 548.0,318.5 549.0,318.5 550.0,318.5 551.0,318.6 552.0,318.6 553.0,318.6 554.0,318.7 555.0,318.7 556.0,318.7 557.0,318.8 558.0,318.8 559.0,318.9 560.0,318.9 561.0,318.9 562.0,319.0 563.0,319.0 564.0,319.1 565.0,319.1 566.0,319.1 567.0,319.2 568.0,319.2 569.0,319.2 570.0,319.3 571.0,319.1 572.0,318.7 573.0,318.3 574.0,318.0 575.0,317.6 576.0,317.1 577.0,316.6 578.0,316.1 579.0,315.6 580.0,315.1 581.0,314.6 582.0,313.9 583.0,313.2 584.0,312.5 585.0,311.8 586.0,310.9 587.0,310.0 588.0,309.1 589.0,308.2 590.0,307.3 591.0,306.5 592.0,306.0 593.0,305.5 594.0,305.0 595.0,304.5 596.0,304.0 597.0,303.5 598.0,303.0 599.0,302.5 600.0,302.0 601.0,301.5 602.0,301.0 603.0,300.6 604.0,300.5 605.0,300.3 606.0,300.2 607.0,300.0 608.0,299.9 609.0,299.7 610.0,299.6 611.0,299.4 612.0,299.2 613.0,299.2 614.0,299.1 615.0,299.0 616.0,299.0 617.0,298.9 618.0,298.8 619.0,298.8 620.0,298.7 621.0,298.7 622.0,298.6 623.0,298.5 624.0,298.5 625.0,298.4 626.0,298.3 627.0,298.3 628.0,298.4 629.0,298.4 630.0,298.5 631.0,298.5 632.0,298.6 633.0,298.6 634.0,298.6 635.0,298.7 636.0,298.7 637.0,298.8 638.0,298.8 639.0,298.9 640.0,298.9 641.0,299.0 642.0,299.0 643.0,299.1 644.0,299.1 645.0,299.2 645.5,299.2 645.5,409.6" fill="#bfe5fb" stroke="#666" stroke-width="0.5"/>
<polygon points="42.0,409.6 42.0,318.7 43.0,318.8 44.0,318.8 45.0,318.9 46.0,319.0 47.0,319.1 48.0,319.1 49.0,319.2 50.0,319.0 51.0,318.7 52.0,318.5 53.0,318.3 54.0,318.3 55.0,318.6 56.0,318.8 57.0,319.0 58.0,319.1 59.0,319.3 60.0,319.4 61.0,319.6 62.0,319.8 63.0,320.1 64.0,320.4 65.0,320.7 66.0,320.9 67.0,321.0 68.0,321.1 69.0,321.2 70.0,321.0 71.0,320.8 72.0,320.7 73.0,320.5 74.0,320.3 75.0,320.2 76.0,320.1 77.0,320.0 78.0,319.9 79.0,319.8 80.0,319.7 81.0,319.6 82.0,319.5 83.0,319.4 84.0,319.3 85.0,319.2 86.0,319.1 87.0,319.0 88.0,318.8 89.0,318.7 90.0,318.4 91.0,318.1 92.0,317.7 93.0,317.2 94.0,316.0 95.0,314.8 96.0,313.5 97.0,312.2 98.0,310.9 99.0,310.1 100.0,309.3 101.0,308.6 102.0,308.0 103.0,307.6 104.0,307.3 105.0,306.9 106.0,307.2 107.0,307.6 108.0,307.9 109.0,308.5 110.0,309.5 111.0,310.5 112.0,311.5 113.0,311.8 114.0,312.1 115.0,312.3 116.0,312.5 117.0,312.4 118.0,312.3 119.0,312.2 120.0,312.0 121.0,311.9 122.0,311.7 123.0,311.7 124.0,312.0 125.0,312.2 126.0,312.5 127.0,313.2 128.0,313.9 129.0,314.7 130.0,315.3 131.0,315.8 132.0,316.3 133.0,316.8 134.0,317.0 135.0,317.1 136.0,317.3 137.0,317.4 138.0,317.5 139.0,317.7 140.0,317.8 141.0,317.9 142.0,318.0 143.0,318.1 144.0,318.2 145.0,318.3 146.0,318.4 147.0,318.5 148.0,318.6 149.0,318.7 150.0,319.1 151.0,319.4 152.0,319.7 153.0,320.0 154.0,320.4 155.0,320.7 156.0,321.1 157.0,321.5 158.0,321.9 159.0,322.2 160.0,322.4 161.0,322.4 162.0,322.5 163.0,322.5 164.0,322.5 165.0,322.6 166.0,322.6 167.0,322.4 168.0,322.0 169.0,321.7 170.0,321.4 171.0,321.1 172.0,320.8 173.0,320.6 174.0,320.4 175.0,320.2 176.0,320.0 177.0,319.7 178.0,319.5 179.0,319.3 180.0,319.1 181.0,318.9 182.0,318.7 183.0,318.6 184.0,318.5 185.0,318.3 186.0,318.2 187.0,318.1 188.0,318.0 189.0,317.8 190.0,317.7 191.0,317.6 192.0,317.5 193.0,317.4 194.0,317.5 195.0,317.6 196.0,317.7 197.0,317.8 198.0,317.8 199.0,317.9 200.0,318.0 201.0,318.1 202.0,318.3 203.0,318.6 204.0,318.8 205.0,319.1 206.0,319.4 207.0,319.8 208.0,320.3 209.0,320.8 210.0,321.3 211.0,321.8 212.0,322.3 213.0,322.8 214.0,323.2 215.0,323.8 216.0,324.2 217.0,324.8 218.0,325.2 219.0,325.8 220.0,326.2 221.0,326.8 222.0,327.2 223.0,327.6 224.0,328.0 225.0,328.4 226.0,328.8 227.0,329.2 228.0,329.6 229.0,330.0 230.0,330.4 231.0,330.3 232.0,330.1 233.0,330.0 234.0,329.9 235.0,329.8 236.0,329.6 237.0,329.5 238.0,328.5 239.0,327.5 240.0,326.5 241.0,325.5 242.0,324.3 243.0,323.0 244.0,321.7 245.0,322.5 246.0,323.5 247.0,324.5 248.0,325.3 249.0,326.0 250.0,326.6 251.0,327.2 252.0,327.8 253.0,328.4 254.0,329.0 255.0,329.6 256.0,330.2 257.0,330.6 258.0,330.9 259.0,331.2 260.0,331.5 261.0,331.8 262.0,332.1 263.0,332.4 264.0,332.7 265.0,333.0 266.0,333.1 267.0,333.2 268.0,333.4 269.0,333.5 270.0,333.6 271.0,333.8 272.0,333.9 273.0,334.0 274.0,334.1 275.0,334.3 276.0,334.4 277.0,334.5 278.0,334.7 279.0,334.8 280.0,334.9 281.0,334.9 282.0,335.0 283.0,335.1 284.0,335.1 285.0,335.2 286.0,335.2 287.0,335.3 288.0,335.4 289.0,335.4 290.0,335.5 291.0,335.6 292.0,335.6 293.0,335.7 294.0,335.5 295.0,335.2 296.0,335.0 297.0,335.0 298.0,335.5 299.0,336.0 300.0,336.5 301.0,336.8 302.0,337.2 303.0,337.6 304.0,338.0 305.0,338.3 306.0,338.5 307.0,338.6 308.0,338.6 309.0,338.6 310.0,338.7 311.0,338.7 312.0,338.8 313.0,338.8 314.0,338.8 315.0,338.9 316.0,338.9 317.0,338.9 318.0,339.0 319.0,339.1 320.0,339.2 321.0,339.4 322.0,339.5 323.0,339.6 324.0,339.8 325.0,339.9 326.0,340.1 327.0,340.2 328.0,340.4 329.0,340.5 330.0,340.6 331.0,340.8 332.0,340.8 333.0,340.6 334.0,340.3 335.0,340.0 336.0,339.7 337.0,339.4 338.0,339.2 339.0,338.9 340.0,338.6 341.0,338.3 342.0,338.1 343.0,338.2 344.0,338.5 345.0,338.8 346.0,339.1 347.0,339.3 348.0,339.6 349.0,339.9 350.0,340.2 351.0,340.5 352.0,340.7 353.0,341.1 354.0,341.5 355.0,341.9 356.0,342.4 357.0,342.8 358.0,343.2 359.0,343.6 360.0,344.1 361.0,344.5 362.0,344.9 363.0,345.4 364.0,345.8 365.0,346.2 366.0,346.7 367.0,347.2 368.0,347.8 369.0,348.4 370.0,348.9 371.0,349.5 372.0,350.1 373.0,350.7 374.0,351.2 375.0,351.8 376.0,352.4 377.0,352.9 378.0,353.5 379.0,354.1 380.0,354.9 381.0,355.8 382.0,356.7 383.0,357.6 384.0,358.5 385.0,359.4 386.0,360.3 387.0,361.2 388.0,362.1 389.0,363.1 390.0,364.6 391.0,366.0 392.0,367.4 393.0,368.8 394.0,370.3 395.0,371.7 396.0,373.4 397.0,375.0 398.0,376.7 399.0,378.4 400.0,380.0 401.0,381.7 402.0,383.1 403.0,384.1 404.0,385.1 405.0,386.1 406.0,387.1 407.0,386.6 408.0,386.1 409.0,385.6 410.0,385.1 411.0,384.6 412.0,384.1 413.0,383.5 414.0,382.9 415.0,382.3 416.0,381.7 417.0,381.1 418.0,380.5 419.0,379.9 420.0,379.3 421.0,378.7 422.0,378.1 423.0,377.5 424.0,377.0 425.0,376.7 426.0,376.4 427.0,376.0 428.0,375.7 429.0,375.3 430.0,375.0 431.0,374.9 432.0,374.8 433.0,374.6 434.0,374.5 435.0,374.4 436.0,374.2 437.0,374.1 438.0,374.0 439.0,373.9 440.0,374.1 441.0,374.3 442.0,374.4 443.0,374.6 444.0,374.8 445.0,374.9 446.0,375.2 447.0,375.6 448.0,376.0 449.0,376.4 450.0,376.7 451.0,377.1 452.0,377.5 453.0,377.9 454.0,378.3 455.0,378.5 456.0,378.8 457.0,379.1 458.0,379.4 459.0,379.6 460.0,379.9 461.0,380.1 462.0,380.1 463.0,380.1 464.0,380.1 465.0,380.1 466.0,380.1 467.0,380.1 468.0,379.8 469.0,379.3 470.0,378.9 471.0,378.4 472.0,378.0 473.0,377.6 474.0,377.1 475.0,376.3 476.0,375.6 477.0,374.8 478.0,374.1 479.0,373.4 480.0,372.6 481.0,371.9 482.0,371.1 483.0,370.4 484.0,369.6 485.0,368.8 486.0,368.0 487.0,367.1 488.0,366.3 489.0,365.5 490.0,364.7 491.0,363.9 492.0,363.1 493.0,362.3 494.0,361.6 495.0,361.1 496.0,360.6 497.0,360.1 498.0,359.6 499.0,359.1 500.0,358.6 501.0,358.1 502.0,357.5 503.0,357.0 504.0,356.5 505.0,356.0 506.0,355.8 507.0,355.5 508.0,355.3 509.0,355.1 510.0,354.9 511.0,354.6 512.0,354.4 513.0,354.3 514.0,354.1 515.0,354.0 516.0,353.8 517.0,353.7 518.0,353.5 519.0,353.4 520.0,353.2 521.0,352.6 522.0,351.7 523.0,350.9 524.0,350.1 525.0,349.3 526.0,348.5 527.0,347.5 528.0,346.5 529.0,345.6 530.0,344.6 531.0,343.6 532.0,342.6 533.0,341.4 534.0,340.2 535.0,339.1 536.0,337.9 537.0,336.7 538.0,335.6 539.0,334.4 540.0,333.6 541.0,332.8 542.0,332.0 543.0,331.2 544.0,330.5 545.0,329.7 546.0,329.1 547.0,328.5 548.0,327.9 549.0,327.3 550.0,326.7 551.0,326.2 552.0,325.9 553.0,325.6 554.0,325.3 555.0,325.0 556.0,324.7 557.0,324.4 558.0,324.2 559.0,323.9 560.0,323.7 561.0,323.4 562.0,323.2 563.0,322.9 564.0,322.6 565.0,322.1 566.0,321.7 567.0,321.3 568.0,320.9 569.0,320.5 570.0,320.1 571.0,319.6 572.0,319.1 573.0,318.6 574.0,318.1 575.0,317.6 576.0,317.1 577.0,316.6 578.0,316.1 579.0,315.6 580.0,315.1 581.0,314.6 582.0,313.9 583.0,313.2 584.0,312.5 585.0,311.8 586.0,310.9 587.0,310.0 588.0,309.1 589.0,308.2 590.0,307.3 591.0,306.5 592.0,306.0 593.0,305.5 594.0,305.0 595.0,304.5 596.0,304.0 597.0,303.5 598.0,303.0 599.0,302.5 600.0,302.0 601.0,301.5 602.0,301.0 603.0,300.6 604.0,300.5 605.0,300.3 606.0,300.2 607.0,300.0 608.0,299.9 609.0,299.7 610.0,299.6 611.0,299.4 612.0,299.2 613.0,299.2 614.0,299.1 615.0,299.0 616.0,299.0 617.0,298.9 618.0,298.8 619.0,298.8 620.0,298.7 621.0,298.7 622.0,298.6 623.0,298.5 624.0,298.5 625.0,298.4 626.0,298.3 627.0,298.3 628.0,298.4 629.0,298.4 630.0,298.5 631.0,298.5 632.0,298.6 633.0,298.6 634.0,298.6 635.0,298.7 636.0,298.7 637.0,298.8 638.0,298.8 639.0,298.9 640.0,298.9 641.0,299.0 642.0,299.0 643.0,299.1 644.0,299.1 645.0,299.2 645.5,299.2 645.5,409.6" fill="#e6baf5" stroke="#555" stroke-width="0.5"/>
<polygon points="42.0,409.6 42.0,318.7 43.0,318.8 44.0,318.8 45.0,318.9 46.0,319.0 47.0,319.1 48.0,319.1 49.0,319.2 50.0,319.0 51.0,318.7 52.0,318.5 53.0,318.3 54.0,318.4 55.0,318.6 56.0,318.8 57.0,319.0 58.0,319.1 59.0,319.3 60.0,319.4 61.0,319.6 62.0,319.8 63.0,320.1 64.0,320.4 65.0,320.7 66.0,320.9 67.0,321.0 68.0,321.1 69.0,321.2 70.0,321.0 71.0,320.8 72.0,320.7 73.0,320.5 74.0,320.3 75.0,320.2 76.0,320.1 77.0,320.0 78.0,319.9 79.0,319.8 80.0,319.7 81.0,319.6 82.0,319.5 83.0,319.4 84.0,319.3 85.0,319.2 86.0,319.1 87.0,319.0 88.0,318.8 89.0,318.7 90.0,318.4 91.0,318.1 92.0,317.7 93.0,317.2 94.0,316.0 95.0,314.8 96.0,313.5 97.0,312.2 98.0,310.9 99.0,310.1 100.0,309.3 101.0,308.6 102.0,308.0 103.0,307.6 104.0,307.3 105.0,306.9 106.0,307.2 107.0,307.6 108.0,307.9 109.0,308.5 110.0,309.5 111.0,310.5 112.0,311.5 113.0,311.8 114.0,312.1 115.0,312.3 116.0,312.5 117.0,312.4 118.0,312.3 119.0,312.2 120.0,312.0 121.0,311.9 122.0,311.7 123.0,311.7 124.0,312.0 125.0,312.2 126.0,312.5 127.0,313.2 128.0,313.9 129.0,314.7 130.0,315.3 131.0,315.8 132.0,316.3 133.0,316.8 134.0,317.0 135.0,317.1 136.0,317.3 137.0,317.4 138.0,317.5 139.0,317.7 140.0,317.8 141.0,317.9 142.0,318.0 143.0,318.1 144.0,318.2 145.0,318.3 146.0,318.4 147.0,318.5 148.0,318.6 149.0,318.7 150.0,319.1 151.0,319.4 152.0,319.7 153.0,320.0 154.0,320.4 155.0,320.7 156.0,321.1 157.0,322.4 158.0,322.4 159.0,322.5 160.0,322.5 161.0,322.5 162.0,322.6 163.0,322.6 164.0,322.5 165.0,322.6 166.0,322.6 167.0,322.4 168.0,322.0 169.0,321.7 170.0,321.4 171.0,321.1 172.0,320.8 173.0,320.6 174.0,320.4 175.0,320.2 176.0,320.0 177.0,319.7 178.0,319.5 179.0,319.3 180.0,319.1 181.0,318.9 182.0,318.7 183.0,318.6 184.0,318.5 185.0,318.3 186.0,318.2 187.0,318.1 188.0,318.0 189.0,317.8 190.0,317.7 191.0,317.6 192.0,317.5 193.0,317.4 194.0,317.5 195.0,317.6 196.0,317.7 197.0,317.8 198.0,317.8 199.0,317.9 200.0,318.0 201.0,318.1 202.0,318.3 203.0,318.6 204.0,318.8 205.0,319.1 206.0,319.4 207.0,319.8 208.0,320.3 209.0,320.8 210.0,321.3 211.0,321.8 212.0,322.3 213.0,322.8 214.0,323.2 215.0,323.8 216.0,324.2 217.0,324.8 218.0,325.2 219.0,325.8 220.0,326.2 221.0,326.8 222.0,327.2 223.0,327.6 224.0,328.0 225.0,328.4 226.0,328.8 227.0,329.2 228.0,329.6 229.0,330.0 230.0,330.4 231.0,330.3 232.0,330.1 233.0,330.0 234.0,329.9 235.0,329.8 236.0,329.6 237.0,329.5 238.0,328.5 239.0,327.5 240.0,326.5 241.0,325.5 242.0,324.3 243.0,323.0 244.0,321.7 245.0,322.5 246.0,323.5 247.0,324.5 248.0,325.3 249.0,326.0 250.0,326.6 251.0,327.2 252.0,327.8 253.0,328.4 254.0,329.0 255.0,329.6 256.0,330.2 257.0,330.6 258.0,330.9 259.0,331.2 260.0,331.5 261.0,331.8 262.0,332.1 263.0,332.4 264.0,332.7 265.0,333.0 266.0,333.1 267.0,333.2 268.0,333.4 269.0,333.5 270.0,333.6 271.0,333.8 272.0,333.9 273.0,334.0 274.0,334.1 275.0,334.3 276.0,334.4 277.0,334.5 278.0,334.7 279.0,334.8 280.0,334.9 281.0,334.9 282.0,335.0 283.0,335.1 284.0,335.1 285.0,335.2 286.0,335.2 287.0,335.3 288.0,335.4 289.0,335.4 290.0,335.5 291.0,335.6 292.0,335.6 293.0,335.7 294.0,335.5 295.0,335.2 296.0,335.0 297.0,335.0 298.0,335.5 299.0,336.0 300.0,336.5 301.0,336.8 302.0,337.2 303.0,337.6 304.0,338.0 305.0,338.3 306.0,338.7 307.0,338.8 308.0,338.9 309.0,339.1 310.0,339.2 311.0,339.3 312.0,339.4 313.0,339.4 314.0,339.5 315.0,339.6 316.0,339.7 317.0,339.8 318.0,339.9 319.0,340.4 320.0,341.5 321.0,342.5 322.0,343.6 323.0,344.7 324.0,345.9 325.0,347.0 326.0,348.1 327.0,349.3 328.0,350.4 329.0,351.2 330.0,351.9 331.0,352.7 332.0,353.4 333.0,354.2 334.0,355.0 335.0,355.7 336.0,356.0 337.0,355.8 338.0,355.7 339.0,355.5 340.0,355.3 341.0,355.1 342.0,353.9 343.0,352.4 344.0,353.2 345.0,354.2 346.0,354.3 347.0,354.4 348.0,354.4 349.0,354.5 350.0,354.6 351.0,354.7 352.0,354.8 353.0,354.8 354.0,354.9 355.0,355.0 356.0,355.1 357.0,355.2 358.0,355.3 359.0,355.5 360.0,355.6 361.0,355.8 362.0,355.9 363.0,356.0 364.0,356.2 365.0,356.3 366.0,356.5 367.0,356.6 368.0,356.8 369.0,356.9 370.0,357.1 371.0,357.4 372.0,357.8 373.0,358.1 374.0,358.4 375.0,358.8 376.0,359.1 377.0,359.4 378.0,359.8 379.0,360.1 380.0,360.4 381.0,360.8 382.0,361.4 383.0,362.1 384.0,362.7 385.0,363.4 386.0,364.1 387.0,364.9 388.0,366.4 389.0,367.9 390.0,369.4 391.0,370.9 392.0,372.4 393.0,373.7 394.0,374.9 395.0,376.1 396.0,378.4 397.0,380.8 398.0,383.1 399.0,384.4 400.0,385.5 401.0,386.5 402.0,387.6 403.0,388.9 404.0,390.1 405.0,391.4 406.0,392.6 407.0,391.9 408.0,391.2 409.0,390.6 410.0,389.9 411.0,389.2 412.0,388.5 413.0,387.8 414.0,386.8 415.0,385.9 416.0,385.1 417.0,384.1 418.0,383.2 419.0,382.4 420.0,381.4 421.0,380.6 422.0,379.7 423.0,378.8 424.0,378.1 425.0,377.7 426.0,377.2 427.0,376.8 428.0,376.4 429.0,375.9 430.0,375.5 431.0,375.4 432.0,375.4 433.0,375.3 434.0,375.2 435.0,375.1 436.0,375.1 437.0,375.0 438.0,374.9 439.0,374.9 440.0,374.8 441.0,374.9 442.0,375.1 443.0,375.2 444.0,375.4 445.0,375.5 446.0,375.8 447.0,376.2 448.0,376.6 449.0,377.0 450.0,377.4 451.0,377.8 452.0,378.2 453.0,378.6 454.0,379.0 455.0,379.2 456.0,379.5 457.0,379.8 458.0,380.1 459.0,380.3 460.0,380.6 461.0,380.8 462.0,380.8 463.0,380.8 464.0,380.9 465.0,380.9 466.0,380.9 467.0,380.9 468.0,380.6 469.0,380.1 470.0,379.7 471.0,379.2 472.0,378.7 473.0,378.3 474.0,377.8 475.0,377.0 476.0,376.3 477.0,375.6 478.0,374.8 479.0,374.1 480.0,373.4 481.0,372.7 482.0,371.9 483.0,371.2 484.0,370.4 485.0,369.5 486.0,368.7 487.0,367.9 488.0,367.1 489.0,366.3 490.0,365.5 491.0,364.6 492.0,363.8 493.0,363.0 494.0,362.3 495.0,361.7 496.0,361.2 497.0,360.6 498.0,360.0 499.0,359.4 500.0,358.9 501.0,358.3 502.0,357.7 503.0,357.1 504.0,356.6 505.0,356.0 506.0,355.8 507.0,355.5 508.0,355.3 509.0,355.1 510.0,354.9 511.0,354.6 512.0,354.4 513.0,354.3 514.0,354.1 515.0,354.0 516.0,353.8 517.0,353.7 518.0,353.5 519.0,353.4 520.0,353.2 521.0,352.6 522.0,351.7 523.0,350.9 524.0,350.1 525.0,349.3 526.0,348.5 527.0,347.5 528.0,346.5 529.0,345.6 530.0,344.6 531.0,343.6 532.0,342.6 533.0,341.4 534.0,340.2 535.0,339.1 536.0,337.9 537.0,336.7 538.0,335.6 539.0,334.4 540.0,333.6 541.0,332.8 542.0,332.0 543.0,331.2 544.0,330.5 545.0,329.7 546.0,329.1 547.0,328.5 548.0,327.9 549.0,327.3 550.0,326.7 551.0,326.2 552.0,325.9 553.0,325.6 554.0,325.3 555.0,325.0 556.0,324.7 557.0,324.4 558.0,324.2 559.0,323.9 560.0,323.7 561.0,323.4 562.0,323.2 563.0,322.9 564.0,322.6 565.0,322.1 566.0,321.7 567.0,321.3 568.0,320.9 569.0,320.5 570.0,320.1 571.0,319.6 572.0,319.1 573.0,318.6 574.0,318.1 575.0,317.6 576.0,317.1 577.0,316.6 578.0,316.1 579.0,315.6 580.0,315.1 581.0,314.6 582.0,313.9 583.0,313.2 584.0,312.5 585.0,311.8 586.0,310.9 587.0,310.0 588.0,309.1 589.0,308.2 590.0,307.3 591.0,306.5 592.0,306.0 593.0,305.5 594.0,305.0 595.0,304.5 596.0,304.0 597.0,303.5 598.0,303.0 599.0,302.5 600.0,302.0 601.0,301.5 602.0,301.0 603.0,300.6 604.0,300.5 605.0,300.3 606.0,300.2 607.0,300.0 608.0,299.9 609.0,299.7 610.0,299.6 611.0,299.4 612.0,299.2 613.0,299.2 614.0,299.1 615.0,299.0 616.0,299.0 617.0,298.9 618.0,298.8 619.0,298.8 620.0,298.7 621.0,298.7 622.0,298.6 623.0,298.5 624.0,298.5 625.0,298.4 626.0,298.3 627.0,298.3 628.0,298.4 629.0,298.4 630.0,298.5 631.0,298.5 632.0,298.6 633.0,298.6 634.0,298.6 635.0,298.7 636.0,298.7 637.0,298.8 638.0,298.8 639.0,298.9 640.0,298.9 641.0,299.0 642.0,299.0 643.0,299.1 644.0,299.1 645.0,299.2 645.5,299.2 645.5,409.6" fill="#97d6a0" stroke="#555" stroke-width="0.5"/>
<polygon points="42.0,409.6 42.0,318.7 43.0,318.8 44.0,318.8 45.0,318.9 46.0,319.0 47.0,319.1 48.0,319.1 49.0,319.2 50.0,319.0 51.0,318.8 52.0,318.7 53.0,318.5 54.0,318.6 55.0,319.0 56.0,319.4 57.0,319.7 58.0,320.1 59.0,320.4 60.0,320.8 61.0,321.1 62.0,321.3 63.0,321.3 64.0,321.4 65.0,321.5 66.0,321.6 67.0,321.5 68.0,321.4 69.0,321.3 70.0,321.1 71.0,320.9 72.0,320.7 73.0,320.5 74.0,320.3 75.0,320.2 76.0,320.1 77.0,320.0 78.0,319.9 79.0,319.8 80.0,319.7 81.0,319.6 82.0,319.5 83.0,319.4 84.0,319.3 85.0,319.2 86.0,319.1 87.0,319.0 88.0,318.8 89.0,318.7 90.0,318.4 91.0,318.1 92.0,317.7 93.0,317.2 94.0,316.0 95.0,314.8 96.0,313.5 97.0,312.2 98.0,310.9 99.0,310.1 100.0,309.3 101.0,308.6 102.0,308.0 103.0,307.6 104.0,307.3 105.0,306.9 106.0,307.2 107.0,307.6 108.0,307.9 109.0,308.5 110.0,309.5 111.0,310.5 112.0,311.5 113.0,311.8 114.0,312.1 115.0,312.3 116.0,312.5 117.0,312.4 118.0,312.3 119.0,312.2 120.0,312.0 121.0,311.9 122.0,311.7 123.0,311.7 124.0,312.0 125.0,312.2 126.0,312.5 127.0,313.2 128.0,313.9 129.0,314.7 130.0,315.3 131.0,315.8 132.0,316.3 133.0,316.8 134.0,317.0 135.0,317.1 136.0,317.3 137.0,317.4 138.0,317.5 139.0,317.7 140.0,317.8 141.0,317.9 142.0,318.0 143.0,318.1 144.0,318.2 145.0,318.3 146.0,318.4 147.0,318.5 148.0,318.6 149.0,318.7 150.0,319.1 151.0,319.5 152.0,319.8 153.0,320.2 154.0,320.6 155.0,321.1 156.0,321.6 157.0,322.4 158.0,322.7 159.0,323.2 160.0,323.4 161.0,323.4 162.0,323.3 163.0,323.3 164.0,323.3 165.0,323.2 166.0,323.2 167.0,322.9 168.0,322.4 169.0,322.0 170.0,321.6 171.0,321.1 172.0,320.8 173.0,320.6 174.0,320.4 175.0,320.2 176.0,320.0 177.0,319.7 178.0,319.5 179.0,319.3 180.0,319.1 181.0,318.9 182.0,318.7 183.0,318.6 184.0,318.5 185.0,318.3 186.0,318.2 187.0,318.1 188.0,318.0 189.0,317.8 190.0,317.7 191.0,317.6 192.0,317.5 193.0,317.4 194.0,317.5 195.0,317.6 196.0,317.7 197.0,317.8 198.0,317.8 199.0,317.9 200.0,318.0 201.0,318.1 202.0,318.3 203.0,318.6 204.0,318.8 205.0,319.1 206.0,319.4 207.0,319.9 208.0,320.6 209.0,321.3 210.0,322.1 211.0,322.8 212.0,323.5 213.0,324.2 214.0,324.9 215.0,325.5 216.0,326.1 217.0,326.7 218.0,327.4 219.0,328.0 220.0,328.6 221.0,329.2 222.0,329.8 223.0,330.4 224.0,330.9 225.0,331.4 226.0,331.9 227.0,332.4 228.0,332.9 229.0,333.4 230.0,333.9 231.0,334.4 232.0,334.8 233.0,334.6 234.0,334.4 235.0,334.2 236.0,334.1 237.0,333.9 238.0,332.5 239.0,331.1 240.0,329.7 241.0,328.4 242.0,326.4 243.0,324.1 244.0,321.8 245.0,323.1 246.0,324.8 247.0,326.8 248.0,329.5 249.0,332.2 250.0,334.4 251.0,336.4 252.0,338.4 253.0,340.3 254.0,341.6 255.0,342.9 256.0,344.2 257.0,345.5 258.0,346.9 259.0,347.7 260.0,348.4 261.0,349.2 262.0,350.0 263.0,350.7 264.0,351.5 265.0,352.2 266.0,352.8 267.0,353.2 268.0,353.8 269.0,354.2 270.0,354.8 271.0,355.2 272.0,355.8 273.0,356.0 274.0,356.1 275.0,356.3 276.0,356.5 277.0,356.6 278.0,356.8 279.0,357.0 280.0,356.5 281.0,355.9 282.0,355.4 283.0,354.8 284.0,354.3 285.0,352.9 286.0,351.3 287.0,349.6 288.0,348.0 289.0,346.3 290.0,344.8 291.0,343.6 292.0,342.4 293.0,341.2 294.0,340.0 295.0,340.5 296.0,341.0 297.0,341.5 298.0,342.8 299.0,344.8 300.0,346.8 301.0,348.6 302.0,350.4 303.0,352.1 304.0,352.7 305.0,351.4 306.0,350.2 307.0,348.9 308.0,347.1 309.0,345.3 310.0,343.5 311.0,341.8 312.0,341.5 313.0,341.3 314.0,341.0 315.0,340.8 316.0,340.5 317.0,340.3 318.0,340.0 319.0,341.0 320.0,343.3 321.0,345.6 322.0,347.8 323.0,350.4 324.0,353.2 325.0,355.9 326.0,358.6 327.0,359.1 328.0,359.3 329.0,359.6 330.0,359.8 331.0,360.0 332.0,360.2 333.0,360.2 334.0,360.1 335.0,360.1 336.0,360.1 337.0,360.0 338.0,360.0 339.0,360.0 340.0,359.9 341.0,359.9 342.0,359.8 343.0,359.7 344.0,359.7 345.0,359.6 346.0,359.5 347.0,359.4 348.0,359.3 349.0,359.2 350.0,359.1 351.0,359.0 352.0,359.0 353.0,358.9 354.0,359.0 355.0,359.1 356.0,359.2 357.0,359.2 358.0,359.3 359.0,359.4 360.0,359.5 361.0,359.5 362.0,359.6 363.0,359.7 364.0,359.8 365.0,359.8 366.0,359.9 367.0,360.1 368.0,360.2 369.0,360.4 370.0,360.5 371.0,360.7 372.0,360.9 373.0,361.0 374.0,361.2 375.0,361.3 376.0,361.6 377.0,361.9 378.0,362.3 379.0,362.6 380.0,362.9 381.0,363.3 382.0,363.6 383.0,364.0 384.0,364.3 385.0,364.7 386.0,365.7 387.0,366.7 388.0,367.7 389.0,368.7 390.0,369.7 391.0,371.4 392.0,374.2 393.0,377.1 394.0,379.9 395.0,382.7 396.0,384.9 397.0,387.2 398.0,389.5 399.0,391.7 400.0,393.4 401.0,394.8 402.0,396.2 403.0,397.6 404.0,399.0 405.0,400.2 406.0,399.8 407.0,399.5 408.0,399.1 409.0,398.4 410.0,397.7 411.0,397.0 412.0,396.2 413.0,395.5 414.0,394.7 415.0,394.0 416.0,393.3 417.0,392.5 418.0,391.4 419.0,390.3 420.0,389.2 421.0,388.0 422.0,386.9 423.0,385.8 424.0,384.7 425.0,383.6 426.0,382.5 427.0,381.4 428.0,380.4 429.0,379.7 430.0,379.0 431.0,378.4 432.0,377.7 433.0,377.0 434.0,376.4 435.0,376.0 436.0,375.9 437.0,375.8 438.0,375.7 439.0,375.5 440.0,375.4 441.0,375.3 442.0,375.1 443.0,375.2 444.0,375.4 445.0,375.7 446.0,376.1 447.0,376.4 448.0,376.8 449.0,377.2 450.0,377.6 451.0,378.0 452.0,378.3 453.0,378.7 454.0,379.1 455.0,379.5 456.0,379.8 457.0,380.2 458.0,380.6 459.0,381.0 460.0,381.3 461.0,381.6 462.0,381.7 463.0,381.7 464.0,381.8 465.0,381.9 466.0,381.9 467.0,382.0 468.0,381.6 469.0,381.1 470.0,380.5 471.0,380.0 472.0,379.4 473.0,378.9 474.0,378.3 475.0,377.8 476.0,377.2 477.0,376.4 478.0,375.6 479.0,374.8 480.0,374.0 481.0,373.2 482.0,372.5 483.0,371.7 484.0,370.9 485.0,370.1 486.0,369.3 487.0,368.5 488.0,367.6 489.0,366.7 490.0,365.8 491.0,365.0 492.0,364.1 493.0,363.2 494.0,362.3 495.0,361.7 496.0,361.2 497.0,360.6 498.0,360.0 499.0,359.4 500.0,359.0 501.0,358.6 502.0,358.2 503.0,357.7 504.0,357.3 505.0,356.9 506.0,356.7 507.0,356.5 508.0,356.3 509.0,356.2 510.0,356.0 511.0,355.8 512.0,355.6 513.0,355.5 514.0,355.5 515.0,355.4 516.0,355.4 517.0,355.3 518.0,355.3 519.0,355.2 520.0,355.2 521.0,355.1 522.0,354.6 523.0,353.8 524.0,353.0 525.0,352.2 526.0,351.5 527.0,350.7 528.0,349.7 529.0,348.7 530.0,347.7 531.0,346.7 532.0,345.7 533.0,344.7 534.0,343.7 535.0,342.6 536.0,341.5 537.0,340.5 538.0,339.4 539.0,338.3 540.0,337.2 541.0,336.1 542.0,335.2 543.0,334.3 544.0,333.3 545.0,332.4 546.0,331.5 547.0,330.6 548.0,329.9 549.0,329.1 550.0,328.4 551.0,327.6 552.0,326.9 553.0,326.4 554.0,325.8 555.0,325.4 556.0,325.0 557.0,324.6 558.0,324.4 559.0,324.1 560.0,323.9 561.0,323.6 562.0,323.4 563.0,323.1 564.0,322.7 565.0,322.3 566.0,321.9 567.0,321.5 568.0,321.0 569.0,320.6 570.0,320.2 571.0,319.7 572.0,319.2 573.0,318.6 574.0,318.1 575.0,317.6 576.0,317.1 577.0,316.6 578.0,316.1 579.0,315.6 580.0,315.1 581.0,314.6 582.0,313.9 583.0,313.2 584.0,312.5 585.0,311.8 586.0,310.9 587.0,310.0 588.0,309.1 589.0,308.2 590.0,307.3 591.0,306.5 592.0,306.0 593.0,305.5 594.0,305.0 595.0,304.5 596.0,304.0 597.0,303.5 598.0,303.0 599.0,302.5 600.0,302.0 601.0,301.5 602.0,301.0 603.0,300.6 604.0,300.5 605.0,300.3 606.0,300.2 607.0,300.0 608.0,299.9 609.0,299.7 610.0,299.6 611.0,299.4 612.0,299.2 613.0,299.2 614.0,299.1 615.0,299.0 616.0,299.0 617.0,298.9 618.0,298.8 619.0,298.8 620.0,298.7 621.0,298.7 622.0,298.6 623.0,298.5 624.0,298.5 625.0,298.4 626.0,298.3 627.0,298.3 628.0,298.4 629.0,298.4 630.0,298.5 631.0,298.5 632.0,298.6 633.0,298.6 634.0,298.6 635.0,298.7 636.0,298.7 637.0,298.8 638.0,298.8 639.0,298.9 640.0,298.9 641.0,299.0 642.0,299.0 643.0,299.1 644.0,299.1 645.0,299.2 645.5,299.2 645.5,409.6" fill="url(#rock)" stroke="#444" stroke-width="0.7"/>
<line x1="42" y1="289.3" x2="645.5" y2="289.3" stroke="#b0b0b0" stroke-width="0.9" opacity="0.8"/>
<line x1="42" y1="319.5" x2="645.5" y2="319.5" stroke="#b0b0b0" stroke-width="0.9" opacity="0.8"/>
<line x1="42" y1="349.6" x2="645.5" y2="349.6" stroke="#b0b0b0" stroke-width="0.9" opacity="0.8"/>
<line x1="42" y1="379.8" x2="645.5" y2="379.8" stroke="#b0b0b0" stroke-width="0.9" opacity="0.8"/>
<line x1="192.9" y1="284.5" x2="192.9" y2="409.6" stroke="#b8b8b8" stroke-width="0.9" opacity="0.6"/>
<line x1="343.8" y1="284.5" x2="343.8" y2="409.6" stroke="#b8b8b8" stroke-width="0.9" opacity="0.6"/>
<line x1="494.6" y1="284.5" x2="494.6" y2="409.6" stroke="#b8b8b8" stroke-width="0.9" opacity="0.6"/>
<line x1="42" y1="409.8" x2="645.5" y2="409.8" stroke="#777" stroke-width="1.4"/>
<line x1="42" y1="284.8" x2="42" y2="415.4" stroke="#999" stroke-width="0.9"/>
<line x1="645.6" y1="284.8" x2="645.6" y2="415.4" stroke="#999" stroke-width="0.9"/>
<line x1="34.6" y1="289.3" x2="42" y2="289.3" stroke="#222" stroke-width="1"/>
<line x1="645.6" y1="289.3" x2="652" y2="289.3" stroke="#222" stroke-width="1"/>
<text class="ax" x="33.8" y="292.6" text-anchor="end">200</text>
<text class="ax" x="653.3" y="292.6">200</text>
<line x1="34.6" y1="319.5" x2="42" y2="319.5" stroke="#222" stroke-width="1"/>
<line x1="645.6" y1="319.5" x2="652" y2="319.5" stroke="#222" stroke-width="1"/>
<text class="ax" x="33.8" y="322.8" text-anchor="end">150</text>
<text class="ax" x="653.3" y="322.8">150</text>
<line x1="34.6" y1="349.6" x2="42" y2="349.6" stroke="#222" stroke-width="1"/>
<line x1="645.6" y1="349.6" x2="652" y2="349.6" stroke="#222" stroke-width="1"/>
<text class="ax" x="33.8" y="352.9" text-anchor="end">100</text>
<text class="ax" x="653.3" y="352.9">100</text>
<line x1="34.6" y1="379.8" x2="42" y2="379.8" stroke="#222" stroke-width="1"/>
<line x1="645.6" y1="379.8" x2="652" y2="379.8" stroke="#222" stroke-width="1"/>
<text class="ax" x="33.8" y="383.1" text-anchor="end">50</text>
<text class="ax" x="653.3" y="383.1">50</text>
<line x1="34.6" y1="409.6" x2="42" y2="409.6" stroke="#222" stroke-width="1"/>
<line x1="645.6" y1="409.6" x2="652" y2="409.6" stroke="#222" stroke-width="1"/>
<text class="ax" x="33.8" y="412.9" text-anchor="end">0</text>
<text class="ax" x="653.3" y="412.9">0</text>
<line x1="42.0" y1="410" x2="42.0" y2="416.8" stroke="#444" stroke-width="1.4"/>
<text class="k" x="42.0" y="426" text-anchor="middle" style="font-size:9.2px">0</text>
<line x1="192.9" y1="410" x2="192.9" y2="416.8" stroke="#444" stroke-width="1.4"/>
<text class="k" x="192.9" y="426" text-anchor="middle" style="font-size:9.2px">5km</text>
<line x1="343.8" y1="410" x2="343.8" y2="416.8" stroke="#444" stroke-width="1.4"/>
<text class="k" x="343.8" y="426" text-anchor="middle" style="font-size:9.2px">10km</text>
<line x1="494.6" y1="410" x2="494.6" y2="416.8" stroke="#444" stroke-width="1.4"/>
<text class="k" x="494.6" y="426" text-anchor="middle" style="font-size:9.2px">15km</text>
<line x1="645.5" y1="410" x2="645.5" y2="416.8" stroke="#444" stroke-width="1.4"/>
<text class="k" x="645.5" y="426" text-anchor="middle" style="font-size:9.2px">20km</text>
<text class="lab" transform="translate(10.5,353.4) rotate(-90)" text-anchor="middle">Elevation (m)</text>
<line x1="159.8" y1="36.3" x2="159.8" y2="289" stroke="#333" stroke-width="0.7" stroke-dasharray="2.2 1.6"/>
<line x1="467.5" y1="36.3" x2="467.5" y2="296.5" stroke="#333" stroke-width="0.7" stroke-dasharray="2.2 1.6"/>
<line x1="612.5" y1="36.3" x2="612.5" y2="271" stroke="#333" stroke-width="0.7" stroke-dasharray="2.2 1.6"/>
<line x1="160.3" y1="289.3" x2="160.3" y2="310.4" stroke="#000" stroke-width="1.3"/>
<path d="M157.3,307.7 L163.3,307.7 L160.3,317.4 z" fill="#000"/>
<line x1="343.6" y1="289.3" x2="343.6" y2="307.3" stroke="#000" stroke-width="1.3"/>
<path d="M340.6,304.6 L346.6,304.6 L343.6,314.3 z" fill="#000"/>
<line x1="467.5" y1="296.5" x2="467.5" y2="316.8" stroke="#000" stroke-width="1.3"/>
<path d="M464.5,314.1 L470.5,314.1 L467.5,323.8 z" fill="#000"/>
<line x1="612.4" y1="270" x2="612.4" y2="292.2" stroke="#000" stroke-width="1.3"/>
<path d="M609.4,289.5 L615.4,289.5 L612.4,299.2 z" fill="#000"/>
<line x1="467.5" y1="324" x2="467.5" y2="380.5" stroke="#333" stroke-width="0.7" stroke-dasharray="2.2 1.6"/>
<line x1="160.3" y1="317.5" x2="160.3" y2="323.4" stroke="#333" stroke-width="0.7"/>
<rect x="153.6" y="326.9" width="9.9" height="18.5" fill="#fff"/>
<text x="158.5" y="339.8" font-size="10.5" font-weight="bold" font-style="italic" text-anchor="middle">i</text>
<rect x="336" y="365.3" width="13" height="17.5" fill="#fff"/>
<text x="342.5" y="377.7" font-size="10.5" font-weight="bold" font-style="italic" text-anchor="middle">ii</text>
<rect x="459.7" y="386" width="15.2" height="17.5" fill="#fff"/>
<text x="467.3" y="398.4" font-size="10.5" font-weight="bold" font-style="italic" text-anchor="middle">iii</text>
<rect x="605.6" y="308.3" width="13.6" height="15" fill="#fff"/>
<text x="612.4" y="319.4" font-size="10.5" font-weight="bold" font-style="italic" text-anchor="middle">iv</text>
<text class="lab" x="48.2" y="449.4">Legend</text>
<defs><pattern id="rock2" patternUnits="userSpaceOnUse" x="135" y="488.4" width="21.5" height="10.5"><rect width="21.5" height="10.5" fill="#e2e2e6"/><path d="M2,1.5 v2 M9.3,3.8 l0.8,1 l0.8,-1 M17,6.2 l1.6,-0.6 l-0.4,1.4z" stroke="#2c3f8f" stroke-width="0.8" fill="none"/></pattern></defs>
<rect x="56.5" y="459.5" width="21" height="10.5" fill="#ffffc0" stroke="#999" stroke-width="0.9"/>
<text x="81.7" y="469.0" font-size="10.5">Sand</text>
<rect x="56.5" y="474" width="21" height="10.5" fill="#c5e6fb" stroke="#333" stroke-width="0.9"/>
<text x="81.7" y="483.5" font-size="10.5">Clay</text>
<rect x="56.5" y="488.4" width="21" height="10.5" fill="#ffa200" stroke="#999" stroke-width="0.9"/>
<text x="81.7" y="497.9" font-size="10.5">Gravel</text>
<rect x="135.5" y="459.5" width="21" height="10.5" fill="#e6b8f2" stroke="#999" stroke-width="0.9"/>
<text x="160.7" y="469.0" font-size="10.5">Glaciofluvial</text>
<rect x="135.5" y="474" width="21" height="10.5" fill="#94d6a2" stroke="#999" stroke-width="0.9"/>
<text x="160.7" y="483.5" font-size="10.5">Till</text>
<rect x="135.5" y="488.4" width="21" height="10.5" fill="url(#rock2)" stroke="#333" stroke-width="0.9"/>
<text x="160.7" y="497.9" font-size="10.5">Bedrockock</text>
<line x1="255.6" y1="465" x2="277" y2="465" stroke="#000" stroke-width="2.3" stroke-dasharray="2.3 2.1"/>
<text class="lab" x="281.4" y="468.8">T<tspan style="font-size:6.5px" dy="0.8">0</tspan><tspan dy="-0.8"> (s)</tspan></text>
<line x1="257.3" y1="482.5" x2="277.7" y2="482.5" stroke="#000" stroke-width="1.8"/>
<text class="lab" x="282" y="486">V<tspan font-size="7" dy="1.5">s,30</tspan></text>
<line x1="257.3" y1="500.3" x2="277.7" y2="500.3" stroke="#888" stroke-width="1.5"/>
<text class="lab" x="282" y="503.8">V<tspan font-size="7" dy="1.5">s,svg</tspan></text>
<text class="t" x="349.4" y="439.4">Site Classifications Legend</text>
<rect x="417" y="445.5" width="71.2" height="64.8" fill="#94b0e8"/>
<rect x="488.2" y="445.5" width="32.8" height="64.8" fill="#9be67d"/>
<rect x="521" y="445.5" width="33" height="64.8" fill="#fdc764"/>
<rect x="554" y="445.5" width="66.2" height="64.8" fill="#ff0000"/>
<rect x="620.2" y="445.5" width="21.6" height="64.8" fill="#d00000"/>
<rect x="417" y="445.5" width="35.4" height="17.6" fill="#6482fa"/>
<rect x="417" y="478" width="35.4" height="11.6" fill="#6482fa"/>
<rect x="554" y="463.1" width="33.2" height="14.7" fill="#fb7d7d"/>
<rect x="554" y="489.8" width="33.2" height="20.5" fill="#fb7d7d"/>
<rect x="620.8" y="478.4" width="20.6" height="11.1" fill="#fff"/>
<rect x="521" y="489.6" width="33" height="11.1" fill="#e0a868"/>
<text class="lab" x="344.1" y="457.7" style="font-size:11px">1</text>
<text class="lab" x="344.1" y="474" style="font-size:11px">2</text>
<text class="lab" x="344.1" y="487.8" style="font-size:11px">3</text>
<text class="lab" x="344.1" y="502.8" style="font-size:11px">4</text>
<text transform="translate(388.4,457.2) scale(0.9,1)" style="font-size:9px;fill:#1a1a1a" text-anchor="middle">NBCC</text>
<text transform="translate(388.6,473.3) scale(0.9,1)" style="font-size:9px;fill:#1a1a1a" text-anchor="middle">Eurocode 8</text>
<text transform="translate(387.9,502.6) scale(0.9,1)" style="font-size:9px;fill:#1a1a1a" text-anchor="middle">Hybrid</text>
<text transform="translate(384.1,488.9) scale(0.9,1)" style="font-size:9px;font-style:italic;fill:#1a1a1a">T</text><text transform="translate(389.2,490.6) scale(0.9,1)" style="font-size:6.5px;fill:#1a1a1a">0</text>
<text transform="translate(434.4,457.3) scale(0.9,1)" style="font-size:8.8px;fill:#f4f4ff" text-anchor="middle">A</text>
<text transform="translate(470.4,457.3) scale(0.9,1)" style="font-size:8.8px;fill:#1a1a1a" text-anchor="middle">B</text>
<text transform="translate(504.6,457.3) scale(0.9,1)" style="font-size:8.8px;fill:#1a1a1a" text-anchor="middle">C</text>
<text transform="translate(537.5,457.3) scale(0.9,1)" style="font-size:8.8px;fill:#1a1a1a" text-anchor="middle">D</text>
<text transform="translate(587.8,457.3) scale(0.9,1)" style="font-size:8.8px;fill:#4a0000" text-anchor="middle">E</text>
<text transform="translate(631.0,457.3) scale(0.9,1)" style="font-size:8.8px;fill:#3a0000" text-anchor="middle">F</text>
<text transform="translate(452.0,473.6) scale(0.9,1)" style="font-size:8.8px;fill:#1a1a1a" text-anchor="middle">A</text>
<text transform="translate(504.6,473.6) scale(0.9,1)" style="font-size:8.8px;fill:#1a1a1a" text-anchor="middle">B</text>
<text transform="translate(537.5,473.6) scale(0.9,1)" style="font-size:8.8px;fill:#1a1a1a" text-anchor="middle">C</text>
<text transform="translate(570.6,473.6) scale(0.9,1)" style="font-size:8.8px;fill:#5a1414" text-anchor="middle">E</text>
<text transform="translate(604.0,473.6) scale(0.9,1)" style="font-size:8.8px;fill:#4a0000" text-anchor="middle">D</text>
<text transform="translate(631.0,473.6) scale(0.9,1)" style="font-size:8.8px;fill:#3a0000" text-anchor="middle">S</text>
<text transform="translate(435.0,487.6) scale(0.9,1)" style="font-size:8.8px;fill:#f4f4ff" text-anchor="middle">Rock</text>
<text transform="translate(470.5,487.6) scale(0.9,1)" style="font-size:8.8px;fill:#1a1a1a" text-anchor="middle">SCI</text>
<text transform="translate(505.0,487.6) scale(0.9,1)" style="font-size:8.8px;fill:#1a1a1a" text-anchor="middle">SCII</text>
<text transform="translate(537.5,487.6) scale(0.9,1)" style="font-size:8.8px;fill:#1a1a1a" text-anchor="middle">SCIII</text>
<text transform="translate(587.5,487.6) scale(0.9,1)" style="font-size:8.8px;fill:#4a0000" text-anchor="middle">SCIV</text>
<text transform="translate(631.0,487.6) scale(0.9,1)" style="font-size:8.8px;fill:#222" text-anchor="middle">N/A</text>
<text transform="translate(452.0,502.8) scale(0.9,1)" style="font-size:8.8px;fill:#1a1a1a" text-anchor="middle">A</text>
<text transform="translate(504.6,502.8) scale(0.9,1)" style="font-size:8.8px;fill:#1a1a1a" text-anchor="middle">B</text>
<text transform="translate(537.5,498.6) scale(0.9,1)" style="font-size:8.8px;fill:#1a1a1a" text-anchor="middle">C1</text>
<text transform="translate(537.5,508.6) scale(0.9,1)" style="font-size:8.8px;fill:#1a1a1a" text-anchor="middle">C2</text>
<text transform="translate(570.6,502.8) scale(0.9,1)" style="font-size:8.8px;fill:#5a1414" text-anchor="middle">E</text>
<text transform="translate(604.0,502.8) scale(0.9,1)" style="font-size:8.8px;fill:#4a0000" text-anchor="middle">D</text>
<text transform="translate(631.0,502.8) scale(0.9,1)" style="font-size:8.8px;fill:#3a0000" text-anchor="middle">X</text>
<line x1="455.2" y1="515.2" x2="628" y2="515.2" stroke="#000" stroke-width="1"/>
<path d="M633.4,515.2 l-6.2,-2.3 v4.6 z" fill="#000"/>
<text x="443.4" y="526.2" style="font-size:8.8px" textLength="201.5" lengthAdjust="spacingAndGlyphs">Hard rock, rock, very stiff soil to soft and liquefiable soil</text>
</svg></body></html>
